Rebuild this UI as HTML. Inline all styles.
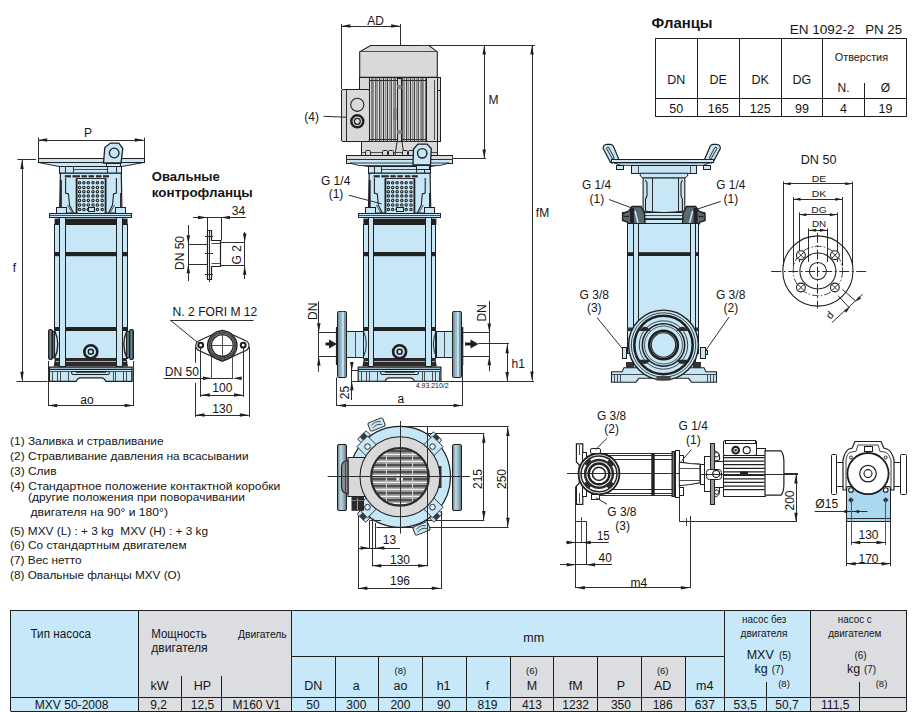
<!DOCTYPE html><html><head><meta charset="utf-8"><style>html,body{margin:0;padding:0;background:#fff;width:920px;height:712px;overflow:hidden}svg{display:block;font-family:"Liberation Sans",sans-serif}</style></head><body>
<svg width="920" height="712" viewBox="0 0 920 712">
<rect x="11" y="610" width="127" height="101" fill="#c6e8f9" stroke="#1f1f1f" stroke-width="0.0"/>
<rect x="138" y="610" width="154" height="101" fill="#dcdde0" stroke="#1f1f1f" stroke-width="0.0"/>
<rect x="292" y="610" width="432" height="46" fill="#c6e8f9" stroke="#1f1f1f" stroke-width="0.0"/>
<rect x="292" y="656" width="218" height="55" fill="#c6e8f9" stroke="#1f1f1f" stroke-width="0.0"/>
<rect x="510" y="656" width="175" height="55" fill="#dcdde0" stroke="#1f1f1f" stroke-width="0.0"/>
<rect x="685" y="656" width="39" height="55" fill="#c6e8f9" stroke="#1f1f1f" stroke-width="0.0"/>
<rect x="724" y="610" width="86" height="101" fill="#c6e8f9" stroke="#1f1f1f" stroke-width="0.0"/>
<rect x="810" y="610" width="96" height="101" fill="#dcdde0" stroke="#1f1f1f" stroke-width="0.0"/>
<line x1="10.5" y1="610.5" x2="906.5" y2="610.5" stroke="#1e1e1e" stroke-width="1.0"/>
<line x1="10.5" y1="711.5" x2="906.5" y2="711.5" stroke="#1e1e1e" stroke-width="1.0"/>
<line x1="10.5" y1="610" x2="10.5" y2="711" stroke="#1e1e1e" stroke-width="1.0"/>
<line x1="906.5" y1="610" x2="906.5" y2="711" stroke="#1e1e1e" stroke-width="1.0"/>
<line x1="10.5" y1="697.5" x2="906.5" y2="697.5" stroke="#1e1e1e" stroke-width="1.0"/>
<line x1="138.5" y1="610" x2="138.5" y2="711" stroke="#1e1e1e" stroke-width="1.0"/>
<line x1="291.5" y1="610" x2="291.5" y2="711" stroke="#1e1e1e" stroke-width="1.0"/>
<line x1="724.5" y1="610" x2="724.5" y2="711" stroke="#1e1e1e" stroke-width="1.0"/>
<line x1="810.5" y1="610" x2="810.5" y2="711" stroke="#1e1e1e" stroke-width="1.0"/>
<line x1="292" y1="656.5" x2="724" y2="656.5" stroke="#1e1e1e" stroke-width="1.0"/>
<line x1="335.5" y1="656" x2="335.5" y2="711" stroke="#1e1e1e" stroke-width="1.0"/>
<line x1="378.5" y1="656" x2="378.5" y2="711" stroke="#1e1e1e" stroke-width="1.0"/>
<line x1="422.5" y1="656" x2="422.5" y2="711" stroke="#1e1e1e" stroke-width="1.0"/>
<line x1="466.5" y1="656" x2="466.5" y2="711" stroke="#1e1e1e" stroke-width="1.0"/>
<line x1="510.5" y1="656" x2="510.5" y2="711" stroke="#1e1e1e" stroke-width="1.0"/>
<line x1="553.5" y1="656" x2="553.5" y2="711" stroke="#1e1e1e" stroke-width="1.0"/>
<line x1="597.5" y1="656" x2="597.5" y2="711" stroke="#1e1e1e" stroke-width="1.0"/>
<line x1="641.5" y1="656" x2="641.5" y2="711" stroke="#1e1e1e" stroke-width="1.0"/>
<line x1="685.5" y1="656" x2="685.5" y2="711" stroke="#1e1e1e" stroke-width="1.0"/>
<line x1="181.5" y1="676" x2="181.5" y2="711" stroke="#1e1e1e" stroke-width="1.0"/>
<line x1="221.5" y1="676" x2="221.5" y2="711" stroke="#1e1e1e" stroke-width="1.0"/>
<line x1="766.5" y1="682" x2="766.5" y2="711" stroke="#1e1e1e" stroke-width="1.0"/>
<line x1="859.5" y1="682" x2="859.5" y2="711" stroke="#1e1e1e" stroke-width="1.0"/>
<text x="30.5" y="638" font-size="12" text-anchor="start" textLength="60.5" lengthAdjust="spacingAndGlyphs" fill="#151515">Тип насоса</text>
<text x="151.2" y="638.3" font-size="12" text-anchor="start" textLength="55.5" lengthAdjust="spacingAndGlyphs" fill="#151515">Мощность</text>
<text x="151.2" y="651.8" font-size="12" text-anchor="start" textLength="56.4" lengthAdjust="spacingAndGlyphs" fill="#151515">двигателя</text>
<text x="238.1" y="638.3" font-size="11" text-anchor="start" textLength="48.6" lengthAdjust="spacingAndGlyphs" fill="#151515">Двигатель</text>
<text x="159.5" y="689.6" font-size="12.5" text-anchor="middle" fill="#151515">kW</text>
<text x="202.5" y="689.6" font-size="12.5" text-anchor="middle" fill="#151515">HP</text>
<text x="533.7" y="641.8" font-size="12.5" text-anchor="middle" fill="#151515">mm</text>
<text x="313.2" y="690" font-size="12.5" text-anchor="middle" fill="#151515">DN</text>
<text x="356.3" y="690" font-size="12.5" text-anchor="middle" fill="#151515">a</text>
<text x="400.4" y="690" font-size="12.5" text-anchor="middle" fill="#151515">ao</text>
<text x="443.6" y="690" font-size="12.5" text-anchor="middle" fill="#151515">h1</text>
<text x="487.5" y="690" font-size="12.5" text-anchor="middle" fill="#151515">f</text>
<text x="531.9" y="690" font-size="12.5" text-anchor="middle" fill="#151515">M</text>
<text x="575.7" y="690" font-size="12.5" text-anchor="middle" fill="#151515">fM</text>
<text x="620.9" y="690" font-size="12.5" text-anchor="middle" fill="#151515">P</text>
<text x="662.7" y="690" font-size="12.5" text-anchor="middle" fill="#151515">AD</text>
<text x="704.8" y="690" font-size="12.5" text-anchor="middle" fill="#151515">m4</text>
<text x="400.4" y="674.4" font-size="9.5" text-anchor="middle" fill="#151515">(8)</text>
<text x="531.9" y="674.4" font-size="9.5" text-anchor="middle" fill="#151515">(6)</text>
<text x="662.7" y="674.4" font-size="9.5" text-anchor="middle" fill="#151515">(6)</text>
<text x="764.2" y="623" font-size="10.5" text-anchor="middle" textLength="44.3" lengthAdjust="spacingAndGlyphs" fill="#151515">насос без</text>
<text x="764.0" y="636.5" font-size="10.5" text-anchor="middle" textLength="47" lengthAdjust="spacingAndGlyphs" fill="#151515">двигателя</text>
<text x="760.2" y="658.7" font-size="12.5" text-anchor="middle" fill="#151515">MXV</text>
<text x="785.1" y="658.7" font-size="10" text-anchor="middle" fill="#151515">(5)</text>
<text x="761.2" y="673" font-size="12.5" text-anchor="middle" fill="#151515">kg</text>
<text x="777.8" y="673" font-size="10" text-anchor="middle" fill="#151515">(7)</text>
<text x="784" y="687.4" font-size="9.5" text-anchor="middle" fill="#151515">(8)</text>
<text x="854.8" y="623" font-size="10.5" text-anchor="middle" textLength="34" lengthAdjust="spacingAndGlyphs" fill="#151515">насос с</text>
<text x="854.8" y="636.5" font-size="10.5" text-anchor="middle" textLength="53.2" lengthAdjust="spacingAndGlyphs" fill="#151515">двигателем</text>
<text x="860.6" y="658.7" font-size="10" text-anchor="middle" fill="#151515">(6)</text>
<text x="853.5" y="673" font-size="12.5" text-anchor="middle" fill="#151515">kg</text>
<text x="870" y="673" font-size="10" text-anchor="middle" fill="#151515">(7)</text>
<text x="881.5" y="687.4" font-size="9.5" text-anchor="middle" fill="#151515">(8)</text>
<text x="71.6" y="709" font-size="12" text-anchor="middle" textLength="73.8" lengthAdjust="spacingAndGlyphs" fill="#151515">MXV 50-2008</text>
<text x="158.6" y="709" font-size="12" text-anchor="middle" fill="#151515">9,2</text>
<text x="202.5" y="709" font-size="12" text-anchor="middle" fill="#151515">12,5</text>
<text x="256.5" y="709" font-size="12" text-anchor="middle" fill="#151515">M160 V1</text>
<text x="313" y="709" font-size="12" text-anchor="middle" fill="#151515">50</text>
<text x="356.3" y="709" font-size="12" text-anchor="middle" fill="#151515">300</text>
<text x="400.4" y="709" font-size="12" text-anchor="middle" fill="#151515">200</text>
<text x="443.8" y="709" font-size="12" text-anchor="middle" fill="#151515">90</text>
<text x="487.5" y="709" font-size="12" text-anchor="middle" fill="#151515">819</text>
<text x="531.9" y="709" font-size="12" text-anchor="middle" fill="#151515">413</text>
<text x="575.7" y="709" font-size="12" text-anchor="middle" fill="#151515">1232</text>
<text x="620.9" y="709" font-size="12" text-anchor="middle" fill="#151515">350</text>
<text x="662.7" y="709" font-size="12" text-anchor="middle" fill="#151515">186</text>
<text x="704.8" y="709" font-size="12" text-anchor="middle" fill="#151515">637</text>
<text x="745.2" y="709" font-size="12" text-anchor="middle" fill="#151515">53,5</text>
<text x="787" y="709" font-size="12" text-anchor="middle" fill="#151515">50,7</text>
<text x="835.2" y="709" font-size="12" text-anchor="middle" fill="#151515">111,5</text>
<text x="651.6" y="28" font-size="15" text-anchor="start" font-weight="bold" textLength="61" lengthAdjust="spacingAndGlyphs" fill="#151515">Фланцы</text>
<text x="789.7" y="33.5" font-size="12.5" text-anchor="start" textLength="64.8" lengthAdjust="spacingAndGlyphs" fill="#151515">EN 1092-2</text>
<text x="865.2" y="33.5" font-size="12.5" text-anchor="start" textLength="37" lengthAdjust="spacingAndGlyphs" fill="#151515">PN 25</text>
<line x1="655.2" y1="38.5" x2="906.6" y2="38.5" stroke="#1e1e1e" stroke-width="1.0"/>
<line x1="655.2" y1="116.5" x2="906.6" y2="116.5" stroke="#1e1e1e" stroke-width="1.0"/>
<line x1="655.5" y1="38.6" x2="655.5" y2="116.6" stroke="#1e1e1e" stroke-width="1.0"/>
<line x1="906.5" y1="38.6" x2="906.5" y2="116.6" stroke="#1e1e1e" stroke-width="1.0"/>
<line x1="655.2" y1="98.5" x2="906.6" y2="98.5" stroke="#1e1e1e" stroke-width="1.0"/>
<line x1="697.5" y1="38.6" x2="697.5" y2="116.6" stroke="#1e1e1e" stroke-width="1.0"/>
<line x1="739.5" y1="38.6" x2="739.5" y2="116.6" stroke="#1e1e1e" stroke-width="1.0"/>
<line x1="781.5" y1="38.6" x2="781.5" y2="116.6" stroke="#1e1e1e" stroke-width="1.0"/>
<line x1="822.5" y1="38.6" x2="822.5" y2="116.6" stroke="#1e1e1e" stroke-width="1.0"/>
<line x1="864.5" y1="83" x2="864.5" y2="116.6" stroke="#1e1e1e" stroke-width="1.0"/>
<text x="676.2" y="83.7" font-size="12.5" text-anchor="middle" fill="#151515">DN</text>
<text x="718.2" y="83.7" font-size="12.5" text-anchor="middle" fill="#151515">DE</text>
<text x="760.2" y="83.7" font-size="12.5" text-anchor="middle" fill="#151515">DK</text>
<text x="801.9" y="83.7" font-size="12.5" text-anchor="middle" fill="#151515">DG</text>
<text x="861.4" y="60.9" font-size="10.5" text-anchor="middle" textLength="53.2" lengthAdjust="spacingAndGlyphs" fill="#151515">Отверстия</text>
<text x="843.5" y="92" font-size="12" text-anchor="middle" fill="#151515">N.</text>
<text x="885.5" y="92" font-size="12" text-anchor="middle" fill="#151515">Ø</text>
<text x="676.2" y="112.6" font-size="12.5" text-anchor="middle" fill="#151515">50</text>
<text x="718.2" y="112.6" font-size="12.5" text-anchor="middle" fill="#151515">165</text>
<text x="760.2" y="112.6" font-size="12.5" text-anchor="middle" fill="#151515">125</text>
<text x="801.9" y="112.6" font-size="12.5" text-anchor="middle" fill="#151515">99</text>
<text x="843.5" y="112.6" font-size="12.5" text-anchor="middle" fill="#151515">4</text>
<text x="885.5" y="112.6" font-size="12.5" text-anchor="middle" fill="#151515">19</text>
<path d="M38.5,162.5 L143.8,162.5 L121.3,166.6 L59.6,166.6Z" fill="#c7e7f7" stroke="#1f1f1f" stroke-width="0.96"/>
<rect x="59.5" y="166.5" width="62.0" height="7.0" fill="#c7e7f7" stroke="#1f1f1f" stroke-width="1.0"/>
<line x1="65.5" y1="166.6" x2="65.5" y2="173.2" stroke="#2e2e2e" stroke-width="1.0"/>
<line x1="73.5" y1="166.6" x2="73.5" y2="173.2" stroke="#2e2e2e" stroke-width="1.0"/>
<line x1="107.5" y1="166.6" x2="107.5" y2="173.2" stroke="#2e2e2e" stroke-width="1.0"/>
<line x1="116.5" y1="166.6" x2="116.5" y2="173.2" stroke="#2e2e2e" stroke-width="1.0"/>
<line x1="73" y1="169.5" x2="107.8" y2="169.5" stroke="#3c3c3c" stroke-width="0.9"/>
<path d="M60.4,173.2 L121.3,173.2 L122,213.2 L59.6,213.2Z" fill="#c7e7f7" stroke="#1f1f1f" stroke-width="1.2"/>
<rect x="64.8" y="175.2" width="6.200000000000003" height="2.2" fill="#2a2a2a" stroke="#1f1f1f" stroke-width="0.0"/>
<rect x="72.5" y="175.2" width="7.5" height="2.2" fill="#2a2a2a" stroke="#1f1f1f" stroke-width="0.0"/>
<rect x="81.5" y="175.2" width="5.5" height="2.2" fill="#2a2a2a" stroke="#1f1f1f" stroke-width="0.0"/>
<rect x="88.5" y="175.2" width="5.5" height="2.2" fill="#2a2a2a" stroke="#1f1f1f" stroke-width="0.0"/>
<rect x="96" y="175.2" width="5.5" height="2.2" fill="#2a2a2a" stroke="#1f1f1f" stroke-width="0.0"/>
<rect x="103" y="175.2" width="6" height="2.2" fill="#2a2a2a" stroke="#1f1f1f" stroke-width="0.0"/>
<path d="M65.6,178 L65.6,193 L68.5,194 L69.5,205 L73.5,213" fill="none" stroke="#1f1f1f" stroke-width="1.08"/>
<path d="M116.4,178 L116.4,193 L113.5,194 L112.5,205 L108.5,213" fill="none" stroke="#1f1f1f" stroke-width="1.08"/>
<line x1="67.5" y1="205" x2="72" y2="213" stroke="#3c3c3c" stroke-width="0.9"/>
<line x1="114.5" y1="205" x2="110" y2="213" stroke="#3c3c3c" stroke-width="0.9"/>
<line x1="61" y1="180" x2="61" y2="208" stroke="#1f1f1f" stroke-width="1.7"/>
<line x1="120.5" y1="193" x2="120.5" y2="208" stroke="#2e2e2e" stroke-width="1.0"/>
<rect x="76.1" y="178.3" width="30" height="34.7" fill="#c7e7f7" stroke="#1f1f1f" stroke-width="0.0"/>
<line x1="76.6" y1="178.3" x2="76.6" y2="213" stroke="#1f1f1f" stroke-width="1.8"/>
<line x1="105.6" y1="178.3" x2="105.6" y2="213" stroke="#1f1f1f" stroke-width="1.8"/>
<line x1="76.1" y1="178.5" x2="106.1" y2="178.5" stroke="#2e2e2e" stroke-width="1.0"/>
<circle cx="79.6" cy="182.8" r="1.2" fill="none" stroke="#1f1f1f" stroke-width="1.08"/>
<circle cx="79.6" cy="187.4" r="1.2" fill="none" stroke="#1f1f1f" stroke-width="1.08"/>
<circle cx="79.6" cy="191.7" r="1.2" fill="none" stroke="#1f1f1f" stroke-width="1.08"/>
<circle cx="79.6" cy="196.1" r="1.2" fill="none" stroke="#1f1f1f" stroke-width="1.08"/>
<circle cx="79.6" cy="200.4" r="1.2" fill="none" stroke="#1f1f1f" stroke-width="1.08"/>
<circle cx="79.6" cy="205" r="1.2" fill="none" stroke="#1f1f1f" stroke-width="1.08"/>
<circle cx="79.6" cy="209.6" r="1.2" fill="none" stroke="#1f1f1f" stroke-width="1.08"/>
<circle cx="83.9" cy="182.8" r="1.2" fill="none" stroke="#1f1f1f" stroke-width="1.08"/>
<circle cx="83.9" cy="187.4" r="1.2" fill="none" stroke="#1f1f1f" stroke-width="1.08"/>
<circle cx="83.9" cy="191.7" r="1.2" fill="none" stroke="#1f1f1f" stroke-width="1.08"/>
<circle cx="83.9" cy="196.1" r="1.2" fill="none" stroke="#1f1f1f" stroke-width="1.08"/>
<circle cx="83.9" cy="200.4" r="1.2" fill="none" stroke="#1f1f1f" stroke-width="1.08"/>
<circle cx="83.9" cy="205" r="1.2" fill="none" stroke="#1f1f1f" stroke-width="1.08"/>
<circle cx="83.9" cy="209.6" r="1.2" fill="none" stroke="#1f1f1f" stroke-width="1.08"/>
<circle cx="88.3" cy="182.8" r="1.2" fill="none" stroke="#1f1f1f" stroke-width="1.08"/>
<circle cx="88.3" cy="187.4" r="1.2" fill="none" stroke="#1f1f1f" stroke-width="1.08"/>
<circle cx="88.3" cy="191.7" r="1.2" fill="none" stroke="#1f1f1f" stroke-width="1.08"/>
<circle cx="88.3" cy="196.1" r="1.2" fill="none" stroke="#1f1f1f" stroke-width="1.08"/>
<circle cx="88.3" cy="200.4" r="1.2" fill="none" stroke="#1f1f1f" stroke-width="1.08"/>
<circle cx="88.3" cy="205" r="1.2" fill="none" stroke="#1f1f1f" stroke-width="1.08"/>
<circle cx="88.3" cy="209.6" r="1.2" fill="none" stroke="#1f1f1f" stroke-width="1.08"/>
<circle cx="93" cy="182.8" r="1.2" fill="none" stroke="#1f1f1f" stroke-width="1.08"/>
<circle cx="93" cy="187.4" r="1.2" fill="none" stroke="#1f1f1f" stroke-width="1.08"/>
<circle cx="93" cy="191.7" r="1.2" fill="none" stroke="#1f1f1f" stroke-width="1.08"/>
<circle cx="93" cy="196.1" r="1.2" fill="none" stroke="#1f1f1f" stroke-width="1.08"/>
<circle cx="93" cy="200.4" r="1.2" fill="none" stroke="#1f1f1f" stroke-width="1.08"/>
<circle cx="93" cy="205" r="1.2" fill="none" stroke="#1f1f1f" stroke-width="1.08"/>
<circle cx="93" cy="209.6" r="1.2" fill="none" stroke="#1f1f1f" stroke-width="1.08"/>
<circle cx="97.4" cy="182.8" r="1.2" fill="none" stroke="#1f1f1f" stroke-width="1.08"/>
<circle cx="97.4" cy="187.4" r="1.2" fill="none" stroke="#1f1f1f" stroke-width="1.08"/>
<circle cx="97.4" cy="191.7" r="1.2" fill="none" stroke="#1f1f1f" stroke-width="1.08"/>
<circle cx="97.4" cy="196.1" r="1.2" fill="none" stroke="#1f1f1f" stroke-width="1.08"/>
<circle cx="97.4" cy="200.4" r="1.2" fill="none" stroke="#1f1f1f" stroke-width="1.08"/>
<circle cx="97.4" cy="205" r="1.2" fill="none" stroke="#1f1f1f" stroke-width="1.08"/>
<circle cx="97.4" cy="209.6" r="1.2" fill="none" stroke="#1f1f1f" stroke-width="1.08"/>
<circle cx="102.2" cy="182.8" r="1.2" fill="none" stroke="#1f1f1f" stroke-width="1.08"/>
<circle cx="102.2" cy="187.4" r="1.2" fill="none" stroke="#1f1f1f" stroke-width="1.08"/>
<circle cx="102.2" cy="191.7" r="1.2" fill="none" stroke="#1f1f1f" stroke-width="1.08"/>
<circle cx="102.2" cy="196.1" r="1.2" fill="none" stroke="#1f1f1f" stroke-width="1.08"/>
<circle cx="102.2" cy="200.4" r="1.2" fill="none" stroke="#1f1f1f" stroke-width="1.08"/>
<circle cx="102.2" cy="205" r="1.2" fill="none" stroke="#1f1f1f" stroke-width="1.08"/>
<circle cx="102.2" cy="209.6" r="1.2" fill="none" stroke="#1f1f1f" stroke-width="1.08"/>
<rect x="88.5" y="207.5" width="6.0" height="4.0" fill="#c7e7f7" stroke="#1f1f1f" stroke-width="1.0"/>
<rect x="56.5" y="207.5" width="10.0" height="6.0" fill="#c7e7f7" stroke="#1f1f1f" stroke-width="1.0"/>
<rect x="115.5" y="207.5" width="10.0" height="6.0" fill="#c7e7f7" stroke="#1f1f1f" stroke-width="1.0"/>
<rect x="49.5" y="213.5" width="82.0" height="4.0" fill="#c7e7f7" stroke="#1f1f1f" stroke-width="1.0"/>
<line x1="49.6" y1="215.5" x2="131.6" y2="215.5" stroke="#3c3c3c" stroke-width="0.9"/>
<rect x="54.6" y="218.6" width="73" height="6.1" fill="#222" stroke="#1f1f1f" stroke-width="0.0"/>
<rect x="54.5" y="224.5" width="73.0" height="134.0" fill="#c7e7f7" stroke="#1f1f1f" stroke-width="1.0"/>
<rect x="54.6" y="252" width="72.4" height="4.2" fill="#222" stroke="#1f1f1f" stroke-width="0.0"/>
<rect x="54.6" y="327" width="72.4" height="4.0" fill="#222" stroke="#1f1f1f" stroke-width="0.0"/>
<path d="M55,358.2 L126.6,358.2 L128,366.6 L53.6,366.6Z" fill="#2a2a2a" stroke="#1f1f1f" stroke-width="0.0"/>
<line x1="56" y1="361.5" x2="126" y2="361.5" stroke="#8fb4c6" stroke-width="1.0"/>
<rect x="59.5" y="217.5" width="6.0" height="149.0" fill="#c7e7f7" stroke="#1f1f1f" stroke-width="1.0"/>
<rect x="116.5" y="217.5" width="6.0" height="149.0" fill="#c7e7f7" stroke="#1f1f1f" stroke-width="1.0"/>
<circle cx="90.8" cy="351.7" r="6.5" fill="#c7e7f7" stroke="#1f1f1f" stroke-width="2.64"/>
<circle cx="90.8" cy="351.7" r="2.5" fill="#c7e7f7" stroke="#1f1f1f" stroke-width="1.56"/>
<path d="M49.4,367.1 L132.1,367.1 L132.1,381.3 L105.7,381.3 Q104.5,377.9 101.5,377.9 L80.5,377.9 Q77.5,377.9 76.3,381.3 L49.4,381.3Z" fill="#c7e7f7" stroke="#1f1f1f" stroke-width="1.2"/>
<line x1="49.4" y1="369.3" x2="132.1" y2="369.3" stroke="#1f1f1f" stroke-width="1.3"/>
<line x1="49.4" y1="371.5" x2="132.1" y2="371.5" stroke="#3c3c3c" stroke-width="0.9"/>
<line x1="52.5" y1="371" x2="52.5" y2="381.3" stroke="#3c3c3c" stroke-width="0.9"/>
<line x1="57.5" y1="371" x2="57.5" y2="381.3" stroke="#3c3c3c" stroke-width="0.9"/>
<line x1="60.5" y1="371" x2="60.5" y2="381.3" stroke="#3c3c3c" stroke-width="0.9"/>
<line x1="68.5" y1="371" x2="68.5" y2="381.3" stroke="#3c3c3c" stroke-width="0.9"/>
<line x1="113.5" y1="371" x2="113.5" y2="381.3" stroke="#3c3c3c" stroke-width="0.9"/>
<line x1="115.5" y1="371" x2="115.5" y2="381.3" stroke="#3c3c3c" stroke-width="0.9"/>
<line x1="123.5" y1="371" x2="123.5" y2="381.3" stroke="#3c3c3c" stroke-width="0.9"/>
<line x1="126.5" y1="371" x2="126.5" y2="381.3" stroke="#3c3c3c" stroke-width="0.9"/>
<line x1="131.5" y1="371" x2="131.5" y2="381.3" stroke="#3c3c3c" stroke-width="0.9"/>
<rect x="71.5" y="371.5" width="38.0" height="3.0" fill="#c7e7f7" stroke="#1f1f1f" stroke-width="1.0" rx="1.6"/>
<line x1="76" y1="372.5" x2="106" y2="372.5" stroke="#3c3c3c" stroke-width="0.9"/>
<rect x="38.5" y="158.5" width="106.0" height="4.0" fill="#c7e7f7" stroke="#1f1f1f" stroke-width="1.0"/>
<path d="M103.5,163 L104.8,147.5 L110.5,143.1 L118.8,143.1 L122.8,148.5 L121,163Z" fill="#c7e7f7" stroke="#1f1f1f" stroke-width="1.32"/>
<circle cx="114.2" cy="153" r="4.8" fill="#c7e7f7" stroke="#1f1f1f" stroke-width="1.32"/>
<rect x="106.5" y="163.5" width="14.0" height="3.0" fill="#c7e7f7" stroke="#1f1f1f" stroke-width="1.0"/>
<path d="M54.6,330.5 Q61,344.4 54.6,358.3" fill="#c7e7f7" stroke="#1f1f1f" stroke-width="1.32"/>
<path d="M127,330.5 Q120.6,344.4 127,358.3" fill="#c7e7f7" stroke="#1f1f1f" stroke-width="1.32"/>
<rect x="48.5" y="329.5" width="4.0" height="30.0" fill="#3c4a51" stroke="#1f1f1f" stroke-width="1.0" rx="1.2"/>
<rect x="52.5" y="331.5" width="2.0" height="26.0" fill="#5d717b" stroke="#1f1f1f" stroke-width="1.0"/>
<rect x="49.6" y="330.5" width="1.3" height="28" fill="#6f8794" stroke="#1f1f1f" stroke-width="0.0"/>
<rect x="129.5" y="329.5" width="4.0" height="30.0" fill="#3c4a51" stroke="#1f1f1f" stroke-width="1.0" rx="1.2"/>
<rect x="126.5" y="331.5" width="3.0" height="26.0" fill="#5d717b" stroke="#1f1f1f" stroke-width="1.0"/>
<rect x="130.7" y="330.5" width="1.3" height="28" fill="#6f8794" stroke="#1f1f1f" stroke-width="0.0"/>
<line x1="38.5" y1="137.5" x2="38.5" y2="158" stroke="#2e2e2e" stroke-width="1.0"/>
<line x1="144.5" y1="137.5" x2="144.5" y2="158" stroke="#2e2e2e" stroke-width="1.0"/>
<line x1="38.2" y1="140.5" x2="143.8" y2="140.5" stroke="#2e2e2e" stroke-width="1.0"/>
<path d="M38.20,140.10 L47.20,138.35 L47.20,141.85Z" fill="#1f1f1f"/>
<path d="M143.80,140.10 L134.80,141.85 L134.80,138.35Z" fill="#1f1f1f"/>
<text x="88" y="137.3" font-size="12" text-anchor="middle" fill="#151515">P</text>
<line x1="17.4" y1="159.5" x2="36" y2="159.5" stroke="#2e2e2e" stroke-width="1.0"/>
<line x1="16.7" y1="381.5" x2="47.5" y2="381.5" stroke="#2e2e2e" stroke-width="1.0"/>
<line x1="22.5" y1="159.9" x2="22.5" y2="380.8" stroke="#2e2e2e" stroke-width="1.0"/>
<path d="M22.00,159.90 L23.75,168.90 L20.25,168.90Z" fill="#1f1f1f"/>
<path d="M22.00,380.80 L20.25,371.80 L23.75,371.80Z" fill="#1f1f1f"/>
<text x="14.5" y="272" font-size="12" text-anchor="middle" fill="#151515">f</text>
<line x1="48.5" y1="361" x2="48.5" y2="406" stroke="#2e2e2e" stroke-width="1.0"/>
<line x1="133.5" y1="361" x2="133.5" y2="406" stroke="#2e2e2e" stroke-width="1.0"/>
<line x1="48.2" y1="405.5" x2="133.6" y2="405.5" stroke="#2e2e2e" stroke-width="1.0"/>
<path d="M48.20,405.40 L57.20,403.65 L57.20,407.15Z" fill="#1f1f1f"/>
<path d="M133.60,405.40 L124.60,407.15 L124.60,403.65Z" fill="#1f1f1f"/>
<text x="87" y="403.5" font-size="12" text-anchor="middle" fill="#151515">ao</text>
<path d="M347.3,162.5 L452.6,162.5 L430.1,166.6 L368.4,166.6Z" fill="#c7e7f7" stroke="#1f1f1f" stroke-width="0.96"/>
<rect x="368.5" y="166.5" width="62.0" height="7.0" fill="#c7e7f7" stroke="#1f1f1f" stroke-width="1.0"/>
<line x1="374.5" y1="166.6" x2="374.5" y2="173.2" stroke="#2e2e2e" stroke-width="1.0"/>
<line x1="381.5" y1="166.6" x2="381.5" y2="173.2" stroke="#2e2e2e" stroke-width="1.0"/>
<line x1="416.5" y1="166.6" x2="416.5" y2="173.2" stroke="#2e2e2e" stroke-width="1.0"/>
<line x1="424.5" y1="166.6" x2="424.5" y2="173.2" stroke="#2e2e2e" stroke-width="1.0"/>
<line x1="381.8" y1="169.5" x2="416.6" y2="169.5" stroke="#3c3c3c" stroke-width="0.9"/>
<path d="M369.2,173.2 L430.1,173.2 L430.8,213.2 L368.4,213.2Z" fill="#c7e7f7" stroke="#1f1f1f" stroke-width="1.2"/>
<rect x="373.6" y="175.2" width="6.200000000000003" height="2.2" fill="#2a2a2a" stroke="#1f1f1f" stroke-width="0.0"/>
<rect x="381.3" y="175.2" width="7.5" height="2.2" fill="#2a2a2a" stroke="#1f1f1f" stroke-width="0.0"/>
<rect x="390.3" y="175.2" width="5.5" height="2.2" fill="#2a2a2a" stroke="#1f1f1f" stroke-width="0.0"/>
<rect x="397.3" y="175.2" width="5.5" height="2.2" fill="#2a2a2a" stroke="#1f1f1f" stroke-width="0.0"/>
<rect x="404.8" y="175.2" width="5.5" height="2.2" fill="#2a2a2a" stroke="#1f1f1f" stroke-width="0.0"/>
<rect x="411.8" y="175.2" width="6" height="2.2" fill="#2a2a2a" stroke="#1f1f1f" stroke-width="0.0"/>
<path d="M374.4,178 L374.4,193 L377.3,194 L378.3,205 L382.3,213" fill="none" stroke="#1f1f1f" stroke-width="1.08"/>
<path d="M425.2,178 L425.2,193 L422.3,194 L421.3,205 L417.3,213" fill="none" stroke="#1f1f1f" stroke-width="1.08"/>
<line x1="376.3" y1="205" x2="380.8" y2="213" stroke="#3c3c3c" stroke-width="0.9"/>
<line x1="423.3" y1="205" x2="418.8" y2="213" stroke="#3c3c3c" stroke-width="0.9"/>
<line x1="369.8" y1="180" x2="369.8" y2="208" stroke="#1f1f1f" stroke-width="1.7"/>
<line x1="429.5" y1="193" x2="429.5" y2="208" stroke="#2e2e2e" stroke-width="1.0"/>
<rect x="384.9" y="178.3" width="30" height="34.7" fill="#c7e7f7" stroke="#1f1f1f" stroke-width="0.0"/>
<line x1="385.4" y1="178.3" x2="385.4" y2="213" stroke="#1f1f1f" stroke-width="1.8"/>
<line x1="414.4" y1="178.3" x2="414.4" y2="213" stroke="#1f1f1f" stroke-width="1.8"/>
<line x1="384.9" y1="178.5" x2="414.9" y2="178.5" stroke="#2e2e2e" stroke-width="1.0"/>
<circle cx="388.4" cy="182.8" r="1.2" fill="none" stroke="#1f1f1f" stroke-width="1.08"/>
<circle cx="388.4" cy="187.4" r="1.2" fill="none" stroke="#1f1f1f" stroke-width="1.08"/>
<circle cx="388.4" cy="191.7" r="1.2" fill="none" stroke="#1f1f1f" stroke-width="1.08"/>
<circle cx="388.4" cy="196.1" r="1.2" fill="none" stroke="#1f1f1f" stroke-width="1.08"/>
<circle cx="388.4" cy="200.4" r="1.2" fill="none" stroke="#1f1f1f" stroke-width="1.08"/>
<circle cx="388.4" cy="205" r="1.2" fill="none" stroke="#1f1f1f" stroke-width="1.08"/>
<circle cx="388.4" cy="209.6" r="1.2" fill="none" stroke="#1f1f1f" stroke-width="1.08"/>
<circle cx="392.7" cy="182.8" r="1.2" fill="none" stroke="#1f1f1f" stroke-width="1.08"/>
<circle cx="392.7" cy="187.4" r="1.2" fill="none" stroke="#1f1f1f" stroke-width="1.08"/>
<circle cx="392.7" cy="191.7" r="1.2" fill="none" stroke="#1f1f1f" stroke-width="1.08"/>
<circle cx="392.7" cy="196.1" r="1.2" fill="none" stroke="#1f1f1f" stroke-width="1.08"/>
<circle cx="392.7" cy="200.4" r="1.2" fill="none" stroke="#1f1f1f" stroke-width="1.08"/>
<circle cx="392.7" cy="205" r="1.2" fill="none" stroke="#1f1f1f" stroke-width="1.08"/>
<circle cx="392.7" cy="209.6" r="1.2" fill="none" stroke="#1f1f1f" stroke-width="1.08"/>
<circle cx="397.1" cy="182.8" r="1.2" fill="none" stroke="#1f1f1f" stroke-width="1.08"/>
<circle cx="397.1" cy="187.4" r="1.2" fill="none" stroke="#1f1f1f" stroke-width="1.08"/>
<circle cx="397.1" cy="191.7" r="1.2" fill="none" stroke="#1f1f1f" stroke-width="1.08"/>
<circle cx="397.1" cy="196.1" r="1.2" fill="none" stroke="#1f1f1f" stroke-width="1.08"/>
<circle cx="397.1" cy="200.4" r="1.2" fill="none" stroke="#1f1f1f" stroke-width="1.08"/>
<circle cx="397.1" cy="205" r="1.2" fill="none" stroke="#1f1f1f" stroke-width="1.08"/>
<circle cx="397.1" cy="209.6" r="1.2" fill="none" stroke="#1f1f1f" stroke-width="1.08"/>
<circle cx="401.8" cy="182.8" r="1.2" fill="none" stroke="#1f1f1f" stroke-width="1.08"/>
<circle cx="401.8" cy="187.4" r="1.2" fill="none" stroke="#1f1f1f" stroke-width="1.08"/>
<circle cx="401.8" cy="191.7" r="1.2" fill="none" stroke="#1f1f1f" stroke-width="1.08"/>
<circle cx="401.8" cy="196.1" r="1.2" fill="none" stroke="#1f1f1f" stroke-width="1.08"/>
<circle cx="401.8" cy="200.4" r="1.2" fill="none" stroke="#1f1f1f" stroke-width="1.08"/>
<circle cx="401.8" cy="205" r="1.2" fill="none" stroke="#1f1f1f" stroke-width="1.08"/>
<circle cx="401.8" cy="209.6" r="1.2" fill="none" stroke="#1f1f1f" stroke-width="1.08"/>
<circle cx="406.2" cy="182.8" r="1.2" fill="none" stroke="#1f1f1f" stroke-width="1.08"/>
<circle cx="406.2" cy="187.4" r="1.2" fill="none" stroke="#1f1f1f" stroke-width="1.08"/>
<circle cx="406.2" cy="191.7" r="1.2" fill="none" stroke="#1f1f1f" stroke-width="1.08"/>
<circle cx="406.2" cy="196.1" r="1.2" fill="none" stroke="#1f1f1f" stroke-width="1.08"/>
<circle cx="406.2" cy="200.4" r="1.2" fill="none" stroke="#1f1f1f" stroke-width="1.08"/>
<circle cx="406.2" cy="205" r="1.2" fill="none" stroke="#1f1f1f" stroke-width="1.08"/>
<circle cx="406.2" cy="209.6" r="1.2" fill="none" stroke="#1f1f1f" stroke-width="1.08"/>
<circle cx="411.0" cy="182.8" r="1.2" fill="none" stroke="#1f1f1f" stroke-width="1.08"/>
<circle cx="411.0" cy="187.4" r="1.2" fill="none" stroke="#1f1f1f" stroke-width="1.08"/>
<circle cx="411.0" cy="191.7" r="1.2" fill="none" stroke="#1f1f1f" stroke-width="1.08"/>
<circle cx="411.0" cy="196.1" r="1.2" fill="none" stroke="#1f1f1f" stroke-width="1.08"/>
<circle cx="411.0" cy="200.4" r="1.2" fill="none" stroke="#1f1f1f" stroke-width="1.08"/>
<circle cx="411.0" cy="205" r="1.2" fill="none" stroke="#1f1f1f" stroke-width="1.08"/>
<circle cx="411.0" cy="209.6" r="1.2" fill="none" stroke="#1f1f1f" stroke-width="1.08"/>
<rect x="396.5" y="207.5" width="7.0" height="4.0" fill="#c7e7f7" stroke="#1f1f1f" stroke-width="1.0"/>
<rect x="365.5" y="207.5" width="10.0" height="6.0" fill="#c7e7f7" stroke="#1f1f1f" stroke-width="1.0"/>
<rect x="424.5" y="207.5" width="10.0" height="6.0" fill="#c7e7f7" stroke="#1f1f1f" stroke-width="1.0"/>
<rect x="358.5" y="213.5" width="82.0" height="4.0" fill="#c7e7f7" stroke="#1f1f1f" stroke-width="1.0"/>
<line x1="358.4" y1="215.5" x2="440.4" y2="215.5" stroke="#3c3c3c" stroke-width="0.9"/>
<rect x="363.4" y="218.6" width="73" height="6.1" fill="#222" stroke="#1f1f1f" stroke-width="0.0"/>
<rect x="363.5" y="224.5" width="72.0" height="134.0" fill="#c7e7f7" stroke="#1f1f1f" stroke-width="1.0"/>
<rect x="363.4" y="252" width="72.4" height="4.2" fill="#222" stroke="#1f1f1f" stroke-width="0.0"/>
<rect x="363.4" y="327" width="72.4" height="4.0" fill="#222" stroke="#1f1f1f" stroke-width="0.0"/>
<path d="M363.8,358.2 L435.4,358.2 L436.8,366.6 L362.4,366.6Z" fill="#2a2a2a" stroke="#1f1f1f" stroke-width="0.0"/>
<line x1="364.8" y1="361.5" x2="434.8" y2="361.5" stroke="#8fb4c6" stroke-width="1.0"/>
<rect x="368.5" y="217.5" width="5.0" height="149.0" fill="#c7e7f7" stroke="#1f1f1f" stroke-width="1.0"/>
<rect x="425.5" y="217.5" width="6.0" height="149.0" fill="#c7e7f7" stroke="#1f1f1f" stroke-width="1.0"/>
<circle cx="399.6" cy="351.7" r="6.5" fill="#c7e7f7" stroke="#1f1f1f" stroke-width="2.64"/>
<circle cx="399.6" cy="351.7" r="2.5" fill="#c7e7f7" stroke="#1f1f1f" stroke-width="1.56"/>
<path d="M358.2,367.1 L440.9,367.1 L440.9,381.3 L414.5,381.3 Q413.3,377.9 410.3,377.9 L389.3,377.9 Q386.3,377.9 385.1,381.3 L358.2,381.3Z" fill="#c7e7f7" stroke="#1f1f1f" stroke-width="1.2"/>
<line x1="358.2" y1="369.3" x2="440.9" y2="369.3" stroke="#1f1f1f" stroke-width="1.3"/>
<line x1="358.2" y1="371.5" x2="440.9" y2="371.5" stroke="#3c3c3c" stroke-width="0.9"/>
<line x1="361.5" y1="371" x2="361.5" y2="381.3" stroke="#3c3c3c" stroke-width="0.9"/>
<line x1="366.5" y1="371" x2="366.5" y2="381.3" stroke="#3c3c3c" stroke-width="0.9"/>
<line x1="369.5" y1="371" x2="369.5" y2="381.3" stroke="#3c3c3c" stroke-width="0.9"/>
<line x1="377.5" y1="371" x2="377.5" y2="381.3" stroke="#3c3c3c" stroke-width="0.9"/>
<line x1="422.5" y1="371" x2="422.5" y2="381.3" stroke="#3c3c3c" stroke-width="0.9"/>
<line x1="424.5" y1="371" x2="424.5" y2="381.3" stroke="#3c3c3c" stroke-width="0.9"/>
<line x1="432.5" y1="371" x2="432.5" y2="381.3" stroke="#3c3c3c" stroke-width="0.9"/>
<line x1="435.5" y1="371" x2="435.5" y2="381.3" stroke="#3c3c3c" stroke-width="0.9"/>
<line x1="439.5" y1="371" x2="439.5" y2="381.3" stroke="#3c3c3c" stroke-width="0.9"/>
<rect x="380.5" y="371.5" width="38.0" height="3.0" fill="#c7e7f7" stroke="#1f1f1f" stroke-width="1.0" rx="1.6"/>
<line x1="384.8" y1="372.5" x2="414.8" y2="372.5" stroke="#3c3c3c" stroke-width="0.9"/>
<rect x="361.5" y="141.5" width="76.0" height="15.0" fill="#d9d9d9" stroke="#1f1f1f" stroke-width="1.0"/>
<path d="M397,141.6 L395,155.9 M402,141.6 L404,155.9" fill="none" stroke="#1f1f1f" stroke-width="0.96"/>
<line x1="361.5" y1="152.5" x2="437.2" y2="152.5" stroke="#3c3c3c" stroke-width="0.9"/>
<rect x="365.5" y="150.5" width="5.0" height="5.0" fill="#d9d9d9" stroke="#1f1f1f" stroke-width="1.0" rx="1"/>
<rect x="382.5" y="150.5" width="5.0" height="5.0" fill="#d9d9d9" stroke="#1f1f1f" stroke-width="1.0" rx="1"/>
<rect x="388.5" y="150.5" width="5.0" height="5.0" fill="#d9d9d9" stroke="#1f1f1f" stroke-width="1.0" rx="1"/>
<rect x="402.5" y="150.5" width="5.0" height="5.0" fill="#d9d9d9" stroke="#1f1f1f" stroke-width="1.0" rx="1"/>
<rect x="408.5" y="150.5" width="5.0" height="5.0" fill="#d9d9d9" stroke="#1f1f1f" stroke-width="1.0" rx="1"/>
<rect x="346.5" y="155.5" width="106.0" height="8.0" fill="#c7e7f7" stroke="#1f1f1f" stroke-width="1.0"/>
<rect x="347" y="156.4" width="105.3" height="3.1" fill="#d9d9d9" stroke="#1f1f1f" stroke-width="0.0"/>
<line x1="346.5" y1="159.5" x2="452.8" y2="159.5" stroke="#2e2e2e" stroke-width="1.0"/>
<path d="M350,163 L449,163 L440,165.6 L359,165.6Z" fill="#c7e7f7" stroke="#1f1f1f" stroke-width="0.84"/>
<rect x="359.5" y="77.5" width="81.0" height="64.0" fill="#d9d9d9" stroke="#1f1f1f" stroke-width="1.0"/>
<rect x="359.5" y="77.5" width="10.0" height="13.0" fill="#d9d9d9" stroke="#1f1f1f" stroke-width="1.0"/>
<line x1="372.0" y1="77.8" x2="372.0" y2="141.6" stroke="#333" stroke-width="1.1"/>
<line x1="373.5" y1="77.8" x2="373.5" y2="141.6" stroke="#8a8a8a" stroke-width="0.9"/>
<line x1="375.85" y1="77.8" x2="375.85" y2="141.6" stroke="#333" stroke-width="1.1"/>
<line x1="377.5" y1="77.8" x2="377.5" y2="141.6" stroke="#8a8a8a" stroke-width="0.9"/>
<line x1="379.7" y1="77.8" x2="379.7" y2="141.6" stroke="#333" stroke-width="1.1"/>
<line x1="381.5" y1="77.8" x2="381.5" y2="141.6" stroke="#8a8a8a" stroke-width="0.9"/>
<line x1="383.55" y1="77.8" x2="383.55" y2="141.6" stroke="#333" stroke-width="1.1"/>
<line x1="385.5" y1="77.8" x2="385.5" y2="141.6" stroke="#8a8a8a" stroke-width="0.9"/>
<line x1="387.4" y1="77.8" x2="387.4" y2="141.6" stroke="#333" stroke-width="1.1"/>
<line x1="389.5" y1="77.8" x2="389.5" y2="141.6" stroke="#8a8a8a" stroke-width="0.9"/>
<line x1="391.25" y1="77.8" x2="391.25" y2="141.6" stroke="#333" stroke-width="1.1"/>
<line x1="393.5" y1="77.8" x2="393.5" y2="141.6" stroke="#8a8a8a" stroke-width="0.9"/>
<line x1="395.1" y1="77.8" x2="395.1" y2="141.6" stroke="#333" stroke-width="1.1"/>
<line x1="397.5" y1="77.8" x2="397.5" y2="141.6" stroke="#8a8a8a" stroke-width="0.9"/>
<line x1="398.95" y1="77.8" x2="398.95" y2="141.6" stroke="#333" stroke-width="1.1"/>
<line x1="400.5" y1="77.8" x2="400.5" y2="141.6" stroke="#8a8a8a" stroke-width="0.9"/>
<line x1="402.8" y1="77.8" x2="402.8" y2="141.6" stroke="#333" stroke-width="1.1"/>
<line x1="404.5" y1="77.8" x2="404.5" y2="141.6" stroke="#8a8a8a" stroke-width="0.9"/>
<line x1="406.65" y1="77.8" x2="406.65" y2="141.6" stroke="#333" stroke-width="1.1"/>
<line x1="408.5" y1="77.8" x2="408.5" y2="141.6" stroke="#8a8a8a" stroke-width="0.9"/>
<line x1="410.5" y1="77.8" x2="410.5" y2="141.6" stroke="#333" stroke-width="1.1"/>
<line x1="412.5" y1="77.8" x2="412.5" y2="141.6" stroke="#8a8a8a" stroke-width="0.9"/>
<line x1="414.35" y1="77.8" x2="414.35" y2="141.6" stroke="#333" stroke-width="1.1"/>
<line x1="416.5" y1="77.8" x2="416.5" y2="141.6" stroke="#8a8a8a" stroke-width="0.9"/>
<line x1="418.2" y1="77.8" x2="418.2" y2="141.6" stroke="#333" stroke-width="1.1"/>
<line x1="420.5" y1="77.8" x2="420.5" y2="141.6" stroke="#8a8a8a" stroke-width="0.9"/>
<line x1="422.05" y1="77.8" x2="422.05" y2="141.6" stroke="#333" stroke-width="1.1"/>
<line x1="423.5" y1="77.8" x2="423.5" y2="141.6" stroke="#8a8a8a" stroke-width="0.9"/>
<line x1="425.9" y1="77.8" x2="425.9" y2="141.6" stroke="#333" stroke-width="1.1"/>
<line x1="427.5" y1="77.8" x2="427.5" y2="141.6" stroke="#8a8a8a" stroke-width="0.9"/>
<line x1="370" y1="80.5" x2="426.4" y2="80.5" stroke="#2e2e2e" stroke-width="1.0"/>
<line x1="370" y1="139.5" x2="426.4" y2="139.5" stroke="#2e2e2e" stroke-width="1.0"/>
<rect x="397.5" y="78.5" width="4.0" height="63.0" fill="#cfcfcf" stroke="#1f1f1f" stroke-width="1.0"/>
<rect x="397.3" y="85" width="4.4" height="4" fill="#888" stroke="#1f1f1f" stroke-width="0.0"/>
<rect x="397.3" y="130" width="4.4" height="4" fill="#888" stroke="#1f1f1f" stroke-width="0.0"/>
<rect x="393.5" y="108" width="3" height="12" fill="#777" stroke="#1f1f1f" stroke-width="0.0"/>
<rect x="426.5" y="77.5" width="11.0" height="64.0" fill="#d9d9d9" stroke="#1f1f1f" stroke-width="1.0"/>
<rect x="437.5" y="77.5" width="3.0" height="13.0" fill="#d9d9d9" stroke="#1f1f1f" stroke-width="1.0"/>
<line x1="434.5" y1="80" x2="434.5" y2="140" stroke="#3c3c3c" stroke-width="0.9"/>
<path d="M370.6,45.5 L429,45.5 L437.3,51.9 L437.3,77.4 L359.7,77.4 L359.7,51.9Z" fill="#d9d9d9" stroke="#1f1f1f" stroke-width="1.08"/>
<line x1="359.7" y1="51.5" x2="437.3" y2="51.5" stroke="#3c3c3c" stroke-width="0.9"/>
<rect x="341.5" y="89.5" width="28.0" height="52.0" fill="#d9d9d9" stroke="#1f1f1f" stroke-width="1.0" rx="1.5"/>
<line x1="346.5" y1="89.3" x2="346.5" y2="141.4" stroke="#2e2e2e" stroke-width="1.0"/>
<circle cx="357.3" cy="104.8" r="6.6" fill="#d9d9d9" stroke="#1f1f1f" stroke-width="1.08"/>
<circle cx="357.3" cy="121.3" r="6.0" fill="#d9d9d9" stroke="#1f1f1f" stroke-width="2.4"/>
<circle cx="357.3" cy="121.3" r="3.0" fill="#d9d9d9" stroke="#1f1f1f" stroke-width="1.2"/>
<path d="M413,165 L413.5,149 L418,144.1 L427,144.1 L431.3,148.5 L430.5,165Z" fill="#c7e7f7" stroke="#1f1f1f" stroke-width="1.32"/>
<circle cx="422.2" cy="153.3" r="4.7" fill="#c7e7f7" stroke="#1f1f1f" stroke-width="1.44"/>
<rect x="416.5" y="165.5" width="13.0" height="4.0" fill="#c7e7f7" stroke="#1f1f1f" stroke-width="1.0"/>
<rect x="337.5" y="311.5" width="9.0" height="66.0" fill="#7896a6" stroke="#1f1f1f" stroke-width="1.0" rx="1"/>
<rect x="339.7" y="311.8" width="2.2" height="65.2" fill="#9ab9c9" stroke="#1f1f1f" stroke-width="0.0"/>
<rect x="341.9" y="311.8" width="2.0" height="65.2" fill="#c5e3f1" stroke="#1f1f1f" stroke-width="0.0"/>
<rect x="452.5" y="311.5" width="9.0" height="66.0" fill="#7896a6" stroke="#1f1f1f" stroke-width="1.0" rx="1"/>
<rect x="454.7" y="311.8" width="2.2" height="65.2" fill="#9ab9c9" stroke="#1f1f1f" stroke-width="0.0"/>
<rect x="456.9" y="311.8" width="2.0" height="65.2" fill="#c5e3f1" stroke="#1f1f1f" stroke-width="0.0"/>
<line x1="336.6" y1="327" x2="336.6" y2="365" stroke="#1f1f1f" stroke-width="1.4"/>
<line x1="462.6" y1="327" x2="462.6" y2="365" stroke="#1f1f1f" stroke-width="1.4"/>
<rect x="346.5" y="331.5" width="17.0" height="26.0" fill="#c7e7f7" stroke="#1f1f1f" stroke-width="1.0"/>
<line x1="355.5" y1="331.7" x2="355.5" y2="357" stroke="#3c3c3c" stroke-width="0.9"/>
<rect x="436.5" y="331.5" width="16.0" height="26.0" fill="#c7e7f7" stroke="#1f1f1f" stroke-width="1.0"/>
<line x1="444.5" y1="331.7" x2="444.5" y2="357" stroke="#3c3c3c" stroke-width="0.9"/>
<path d="M363.5,331 Q369,344 363.5,357" fill="none" stroke="#1f1f1f" stroke-width="0.96"/>
<path d="M436.2,331 Q430.5,344 436.2,357" fill="none" stroke="#1f1f1f" stroke-width="0.96"/>
<rect x="325.5" y="342.5" width="5" height="3" fill="#1f1f1f" stroke="#1f1f1f" stroke-width="0.0"/>
<path d="M337.00,344.00 L329.00,348.60 L329.00,339.40Z" fill="#1f1f1f"/>
<rect x="465" y="342.5" width="6" height="3" fill="#1f1f1f" stroke="#1f1f1f" stroke-width="0.0"/>
<path d="M478.50,344.00 L470.50,348.60 L470.50,339.40Z" fill="#1f1f1f"/>
<line x1="341.5" y1="24" x2="341.5" y2="89" stroke="#2e2e2e" stroke-width="1.0"/>
<line x1="400.5" y1="24" x2="400.5" y2="45.5" stroke="#2e2e2e" stroke-width="1.0"/>
<line x1="341.4" y1="26.5" x2="400.1" y2="26.5" stroke="#2e2e2e" stroke-width="1.0"/>
<path d="M341.40,26.10 L350.40,24.35 L350.40,27.85Z" fill="#1f1f1f"/>
<path d="M400.10,26.10 L391.10,27.85 L391.10,24.35Z" fill="#1f1f1f"/>
<text x="375.7" y="25.2" font-size="12" text-anchor="middle" fill="#151515">AD</text>
<line x1="420" y1="45.5" x2="535" y2="45.5" stroke="#2e2e2e" stroke-width="1.0"/>
<line x1="453" y1="158.5" x2="486" y2="158.5" stroke="#2e2e2e" stroke-width="1.0"/>
<line x1="484.5" y1="45.6" x2="484.5" y2="158.5" stroke="#2e2e2e" stroke-width="1.0"/>
<path d="M484.20,45.60 L485.95,54.60 L482.45,54.60Z" fill="#1f1f1f"/>
<path d="M484.20,158.50 L482.45,149.50 L485.95,149.50Z" fill="#1f1f1f"/>
<text x="488.6" y="103.7" font-size="12" text-anchor="start" fill="#151515">M</text>
<line x1="532.5" y1="45.6" x2="532.5" y2="380.6" stroke="#2e2e2e" stroke-width="1.0"/>
<path d="M532.00,45.60 L533.75,54.60 L530.25,54.60Z" fill="#1f1f1f"/>
<path d="M532.00,380.60 L530.25,371.60 L533.75,371.60Z" fill="#1f1f1f"/>
<text x="535.8" y="217.1" font-size="12" text-anchor="start" fill="#151515">fM</text>
<text x="304.3" y="120.9" font-size="12" text-anchor="start" fill="#151515">(4)</text>
<line x1="323.5" y1="116.3" x2="346" y2="117.2" stroke="#2e2e2e" stroke-width="1.0"/>
<text x="320.9" y="185" font-size="12" text-anchor="start" textLength="29.5" lengthAdjust="spacingAndGlyphs" fill="#151515">G 1/4</text>
<text x="328.7" y="198.3" font-size="12" text-anchor="start" fill="#151515">(1)</text>
<line x1="348.7" y1="195.2" x2="381.7" y2="203.9" stroke="#2e2e2e" stroke-width="1.0"/>
<line x1="318.5" y1="301.3" x2="318.5" y2="371.7" stroke="#2e2e2e" stroke-width="1.0"/>
<path d="M318.80,332.30 L317.05,323.30 L320.55,323.30Z" fill="#1f1f1f"/>
<path d="M318.80,356.60 L320.55,365.60 L317.05,365.60Z" fill="#1f1f1f"/>
<line x1="318.8" y1="332.5" x2="337.4" y2="332.5" stroke="#2e2e2e" stroke-width="1.0"/>
<line x1="318.8" y1="356.5" x2="337.4" y2="356.5" stroke="#2e2e2e" stroke-width="1.0"/>
<text x="317.0" y="311.3" font-size="12" text-anchor="middle" transform="rotate(-90 317.0 311.3)" fill="#151515">DN</text>
<line x1="489.5" y1="301" x2="489.5" y2="371.3" stroke="#2e2e2e" stroke-width="1.0"/>
<path d="M489.30,332.40 L487.55,323.40 L491.05,323.40Z" fill="#1f1f1f"/>
<path d="M489.30,356.30 L491.05,365.30 L487.55,365.30Z" fill="#1f1f1f"/>
<line x1="462" y1="332.5" x2="489.3" y2="332.5" stroke="#2e2e2e" stroke-width="1.0"/>
<line x1="462" y1="356.5" x2="489.3" y2="356.5" stroke="#2e2e2e" stroke-width="1.0"/>
<text x="486.3" y="312.9" font-size="12" text-anchor="middle" transform="rotate(-90 486.3 312.9)" fill="#151515">DN</text>
<line x1="478.3" y1="343.5" x2="509" y2="343.5" stroke="#2e2e2e" stroke-width="1.0"/>
<line x1="507.5" y1="344.2" x2="507.5" y2="381" stroke="#2e2e2e" stroke-width="1.0"/>
<path d="M507.20,344.20 L508.95,353.20 L505.45,353.20Z" fill="#1f1f1f"/>
<path d="M507.20,381.00 L505.45,372.00 L508.95,372.00Z" fill="#1f1f1f"/>
<text x="511.5" y="367.6" font-size="12" text-anchor="start" fill="#151515">h1</text>
<line x1="352" y1="381.5" x2="534" y2="381.5" stroke="#2e2e2e" stroke-width="1.0"/>
<line x1="351.5" y1="366" x2="351.5" y2="400" stroke="#2e2e2e" stroke-width="1.0"/>
<path d="M351.80,370.90 L350.05,361.90 L353.55,361.90Z" fill="#1f1f1f"/>
<path d="M351.80,381.30 L353.55,390.30 L350.05,390.30Z" fill="#1f1f1f"/>
<line x1="351.8" y1="370.5" x2="358.3" y2="370.5" stroke="#2e2e2e" stroke-width="1.0"/>
<text x="348.6" y="392.6" font-size="12" text-anchor="middle" transform="rotate(-90 348.6 392.6)" fill="#151515">25</text>
<text x="415.7" y="388" font-size="8" text-anchor="start" textLength="33" lengthAdjust="spacingAndGlyphs" fill="#151515">4.93.210/2</text>
<line x1="336.5" y1="377.5" x2="336.5" y2="406" stroke="#2e2e2e" stroke-width="1.0"/>
<line x1="462.5" y1="343" x2="462.5" y2="406" stroke="#2e2e2e" stroke-width="1.0"/>
<line x1="337" y1="405.5" x2="462.6" y2="405.5" stroke="#2e2e2e" stroke-width="1.0"/>
<path d="M337.00,405.40 L346.00,403.65 L346.00,407.15Z" fill="#1f1f1f"/>
<path d="M462.60,405.40 L453.60,407.15 L453.60,403.65Z" fill="#1f1f1f"/>
<text x="400.9" y="403" font-size="12" text-anchor="middle" fill="#151515">a</text>
<text x="151.8" y="180.9" font-size="13" text-anchor="start" font-weight="bold" textLength="68" lengthAdjust="spacingAndGlyphs" fill="#151515">Овальные</text>
<text x="151.8" y="196.5" font-size="13" text-anchor="start" font-weight="bold" textLength="101" lengthAdjust="spacingAndGlyphs" fill="#151515">контрофланцы</text>
<line x1="193" y1="217.5" x2="246" y2="217.5" stroke="#2e2e2e" stroke-width="1.0"/>
<path d="M207.00,217.40 L198.00,219.15 L198.00,215.65Z" fill="#1f1f1f"/>
<path d="M221.00,217.40 L230.00,215.65 L230.00,219.15Z" fill="#1f1f1f"/>
<text x="231.7" y="214.8" font-size="12" text-anchor="start" textLength="13.5" lengthAdjust="spacingAndGlyphs" fill="#151515">34</text>
<line x1="207.5" y1="217.4" x2="207.5" y2="230.5" stroke="#2e2e2e" stroke-width="1.0"/>
<line x1="221.5" y1="217.4" x2="221.5" y2="240.5" stroke="#2e2e2e" stroke-width="1.0"/>
<path d="M207.5,230.5 L211.5,230.5 L211.5,240.5 L220.5,240.5 L220.5,266.5 L211.5,266.5 L211.5,279.5 L207.5,279.5Z" fill="#fff" stroke="#1f1f1f" stroke-width="1.2"/>
<line x1="205" y1="236.5" x2="213" y2="236.5" stroke="#2e2e2e" stroke-width="1.0"/>
<line x1="205" y1="253.5" x2="213" y2="253.5" stroke="#2e2e2e" stroke-width="1.0"/>
<line x1="205" y1="274.5" x2="213" y2="274.5" stroke="#2e2e2e" stroke-width="1.0"/>
<line x1="209.5" y1="230.5" x2="209.5" y2="282" stroke="#2e2e2e" stroke-width="1.0"/>
<line x1="211.5" y1="243.5" x2="220.5" y2="243.5" stroke="#3c3c3c" stroke-width="0.9"/>
<line x1="211.5" y1="263.5" x2="220.5" y2="263.5" stroke="#3c3c3c" stroke-width="0.9"/>
<line x1="188.5" y1="225" x2="188.5" y2="281" stroke="#2e2e2e" stroke-width="1.0"/>
<path d="M188.30,244.30 L186.55,235.30 L190.05,235.30Z" fill="#1f1f1f"/>
<path d="M188.30,264.30 L190.05,273.30 L186.55,273.30Z" fill="#1f1f1f"/>
<line x1="188.3" y1="244.5" x2="207" y2="244.5" stroke="#2e2e2e" stroke-width="1.0"/>
<line x1="188.3" y1="264.5" x2="207" y2="264.5" stroke="#2e2e2e" stroke-width="1.0"/>
<text x="184" y="253" font-size="12" text-anchor="middle" transform="rotate(-90 184 253)" fill="#151515">DN 50</text>
<line x1="244.5" y1="232" x2="244.5" y2="279" stroke="#2e2e2e" stroke-width="1.0"/>
<path d="M244.70,242.60 L242.95,233.60 L246.45,233.60Z" fill="#1f1f1f"/>
<path d="M244.70,265.70 L246.45,274.70 L242.95,274.70Z" fill="#1f1f1f"/>
<line x1="221" y1="242.5" x2="244.7" y2="242.5" stroke="#2e2e2e" stroke-width="1.0"/>
<line x1="221" y1="265.5" x2="244.7" y2="265.5" stroke="#2e2e2e" stroke-width="1.0"/>
<text x="241.4" y="254.8" font-size="12" text-anchor="middle" transform="rotate(-90 241.4 254.8)" fill="#151515">G 2</text>
<text x="172.6" y="315.5" font-size="12" text-anchor="start" textLength="84.7" lengthAdjust="spacingAndGlyphs" fill="#151515">N. 2 FORI M 12</text>
<line x1="170.3" y1="320.5" x2="253.5" y2="320.5" stroke="#2e2e2e" stroke-width="1.0"/>
<line x1="170.3" y1="320.2" x2="198.9" y2="343.5" stroke="#2e2e2e" stroke-width="1.0"/>
<path d="M195.7,345.6 Q196,342 199.5,340.5 L222.3,330 L245.3,340.5 Q248.8,342 249,345.6 Q248.8,349.3 245.3,350.8 L222.3,361.3 L199.5,350.8 Q196,349.3 195.7,345.6Z" fill="#fff" stroke="#1f1f1f" stroke-width="1.08"/>
<circle cx="222.3" cy="345.5" r="14.6" fill="#fff" stroke="#1f1f1f" stroke-width="1.44"/>
<circle cx="222.3" cy="345.5" r="12.9" fill="none" stroke="#4a4a4a" stroke-width="2.4"/>
<circle cx="222.3" cy="345.5" r="10.9" fill="#fff" stroke="#1f1f1f" stroke-width="1.2"/>
<line x1="222.5" y1="333.5" x2="222.5" y2="357.5" stroke="#3c3c3c" stroke-width="0.9"/>
<line x1="209.5" y1="345.5" x2="235" y2="345.5" stroke="#3c3c3c" stroke-width="0.9"/>
<circle cx="200.7" cy="345.2" r="2.4" fill="#fff" stroke="#1f1f1f" stroke-width="2.04"/>
<circle cx="243.2" cy="345.2" r="2.4" fill="#fff" stroke="#1f1f1f" stroke-width="2.04"/>
<text x="164.7" y="375.7" font-size="12" text-anchor="start" textLength="34.2" lengthAdjust="spacingAndGlyphs" fill="#151515">DN 50</text>
<line x1="163.6" y1="378.5" x2="232.7" y2="378.5" stroke="#2e2e2e" stroke-width="1.0"/>
<path d="M211.90,378.20 L202.90,379.95 L202.90,376.45Z" fill="#1f1f1f"/>
<path d="M232.70,378.20 L241.70,376.45 L241.70,379.95Z" fill="#1f1f1f"/>
<line x1="211.5" y1="357" x2="211.5" y2="379" stroke="#3c3c3c" stroke-width="0.9"/>
<line x1="232.5" y1="357" x2="232.5" y2="379" stroke="#3c3c3c" stroke-width="0.9"/>
<line x1="200.5" y1="348" x2="200.5" y2="397" stroke="#2e2e2e" stroke-width="1.0"/>
<line x1="243.5" y1="348" x2="243.5" y2="397" stroke="#2e2e2e" stroke-width="1.0"/>
<line x1="200.9" y1="395.5" x2="243" y2="395.5" stroke="#2e2e2e" stroke-width="1.0"/>
<path d="M200.90,395.00 L209.90,393.25 L209.90,396.75Z" fill="#1f1f1f"/>
<path d="M243.00,395.00 L234.00,396.75 L234.00,393.25Z" fill="#1f1f1f"/>
<text x="222.3" y="391.5" font-size="12" text-anchor="middle" fill="#151515">100</text>
<line x1="195.5" y1="347" x2="195.5" y2="362.7" stroke="#2e2e2e" stroke-width="1.0"/>
<line x1="195.5" y1="382.9" x2="195.5" y2="417" stroke="#2e2e2e" stroke-width="1.0"/>
<line x1="249.5" y1="347" x2="249.5" y2="417" stroke="#2e2e2e" stroke-width="1.0"/>
<line x1="195.5" y1="415.5" x2="248.8" y2="415.5" stroke="#2e2e2e" stroke-width="1.0"/>
<path d="M195.50,415.00 L204.50,413.25 L204.50,416.75Z" fill="#1f1f1f"/>
<path d="M248.80,415.00 L239.80,416.75 L239.80,413.25Z" fill="#1f1f1f"/>
<text x="222.3" y="412.8" font-size="12" text-anchor="middle" fill="#151515">130</text>
<text x="10.1" y="445" font-size="11" text-anchor="start" textLength="153.5" lengthAdjust="spacingAndGlyphs" fill="#151515">(1) Заливка и стравливание</text>
<text x="10.1" y="459.8" font-size="11" text-anchor="start" textLength="238.5" lengthAdjust="spacingAndGlyphs" fill="#151515">(2) Стравливание давления на всасывании</text>
<text x="10.1" y="474.7" font-size="11" text-anchor="start" textLength="46.5" lengthAdjust="spacingAndGlyphs" fill="#151515">(3) Слив</text>
<text x="10.1" y="490.2" font-size="11" text-anchor="start" textLength="270.3" lengthAdjust="spacingAndGlyphs" fill="#151515">(4) Стандартное положение контактной коробки</text>
<text x="28" y="500.8" font-size="11" text-anchor="start" textLength="217" lengthAdjust="spacingAndGlyphs" fill="#151515">(другие положения при поворачивании</text>
<text x="30.5" y="515.5" font-size="11" text-anchor="start" textLength="137.5" lengthAdjust="spacingAndGlyphs" fill="#151515">двигателя на 90° и 180°)</text>
<text x="10.1" y="534.5" font-size="11" text-anchor="start" textLength="198" lengthAdjust="spacingAndGlyphs" fill="#151515">(5) MXV (L) : + 3 kg&#160; MXV (H) : + 3 kg</text>
<text x="10.1" y="549.4" font-size="11" text-anchor="start" textLength="176.5" lengthAdjust="spacingAndGlyphs" fill="#151515">(6) Со стандартным двигателем</text>
<text x="10.1" y="564.3" font-size="11" text-anchor="start" textLength="71.5" lengthAdjust="spacingAndGlyphs" fill="#151515">(7) Вес нетто</text>
<text x="10.1" y="579.3" font-size="11" text-anchor="start" textLength="170.5" lengthAdjust="spacingAndGlyphs" fill="#151515">(8) Овальные фланцы MXV (O)</text>
<path d="M603.2,148.5 Q603,144.5 607,144.3 L610.5,144.3 Q612.5,144.5 613.5,146.5 L619,159.7 L612,163.2 Q610,162.5 609.5,160.5Z" fill="#c7e7f7" stroke="#1f1f1f" stroke-width="1.2"/>
<path d="M720.3,148.5 Q720.5,144.5 716.5,144.3 L713,144.3 Q711,144.5 710,146.5 L704.5,159.7 L711.5,163.2 Q713.5,162.5 714,160.5Z" fill="#c7e7f7" stroke="#1f1f1f" stroke-width="1.2"/>
<path d="M606.5,148.5 Q606.5,147 608.5,147.2 L614,157.5 Q614,159 612.5,158.8Z" fill="none" stroke="#1f1f1f" stroke-width="0.96"/>
<path d="M717,148.5 Q717,147 715,147.2 L709.5,157.5 Q709.5,159 711,158.8Z" fill="none" stroke="#1f1f1f" stroke-width="0.96"/>
<rect x="611.5" y="159.5" width="102.0" height="3.0" fill="#c7e7f7" stroke="#1f1f1f" stroke-width="1.0"/>
<path d="M614,162.9 L710,162.9 L703,165.4 L621,165.4Z" fill="#c7e7f7" stroke="#1f1f1f" stroke-width="0.84"/>
<rect x="616.5" y="165.5" width="7.0" height="4.0" fill="#c7e7f7" stroke="#1f1f1f" stroke-width="1.0"/>
<rect x="703.5" y="165.5" width="7.0" height="4.0" fill="#c7e7f7" stroke="#1f1f1f" stroke-width="1.0"/>
<rect x="631.5" y="165.5" width="65.0" height="8.0" fill="#c7e7f7" stroke="#1f1f1f" stroke-width="1.0"/>
<line x1="638.5" y1="165.4" x2="638.5" y2="173.2" stroke="#3c3c3c" stroke-width="0.9"/>
<line x1="690.5" y1="165.4" x2="690.5" y2="173.2" stroke="#3c3c3c" stroke-width="0.9"/>
<path d="M640.3,173.2 L687.6,173.2 L687.6,176 L684.8,178 L643.1,178 L640.3,176Z" fill="#c7e7f7" stroke="#1f1f1f" stroke-width="0.96"/>
<path d="M643.1,178 L684.8,178 L684.8,211 Q664,214 643.1,211Z" fill="#c7e7f7" stroke="#1f1f1f" stroke-width="1.08"/>
<line x1="652.5" y1="178" x2="652.5" y2="211.5" stroke="#2e2e2e" stroke-width="1.0"/>
<line x1="678.5" y1="178" x2="678.5" y2="211.5" stroke="#2e2e2e" stroke-width="1.0"/>
<path d="M645.5,180 L647,183 L647,196 L645.5,199 L645.5,211" fill="none" stroke="#1f1f1f" stroke-width="1.08"/>
<path d="M682.4,180 L681,183 L681,196 L682.4,199 L682.4,211" fill="none" stroke="#1f1f1f" stroke-width="1.08"/>
<rect x="622.5" y="212.5" width="82.0" height="7.0" fill="#c7e7f7" stroke="#1f1f1f" stroke-width="1.0"/>
<rect x="630.5" y="219.5" width="69.0" height="4.0" fill="#c7e7f7" stroke="#1f1f1f" stroke-width="1.0"/>
<line x1="645" y1="215.5" x2="683" y2="215.5" stroke="#3c3c3c" stroke-width="0.9"/>
<line x1="645" y1="218.5" x2="683" y2="218.5" stroke="#3c3c3c" stroke-width="0.9"/>
<path d="M622.6,213.5 L629,211 L632,206.5 L641,206.5 L644.5,213 L645,223 L641,228 L631,228 L627.5,222 L622.6,220.5Z" fill="#5a6a72" stroke="#1f1f1f" stroke-width="1.44"/>
<path d="M705,213.5 L698.6,211 L695.6,206.5 L686.6,206.5 L683.1,213 L682.6,223 L686.6,228 L696.6,228 L700.1,222 L705,220.5Z" fill="#5a6a72" stroke="#1f1f1f" stroke-width="1.44"/>
<rect x="630" y="208" width="4" height="19" fill="#222" stroke="#1f1f1f" stroke-width="0.0"/>
<rect x="693.6" y="208" width="4" height="19" fill="#222" stroke="#1f1f1f" stroke-width="0.0"/>
<line x1="635" y1="211" x2="639" y2="227" stroke="#cfe8f4" stroke-width="1.5"/>
<line x1="692.6" y1="211" x2="688.6" y2="227" stroke="#cfe8f4" stroke-width="1.5"/>
<line x1="624" y1="216.5" x2="629" y2="216.5" stroke="#222" stroke-width="1.2"/>
<line x1="698.6" y1="216.5" x2="703.6" y2="216.5" stroke="#222" stroke-width="1.2"/>
<rect x="627.5" y="223.5" width="71.0" height="130.0" fill="#c7e7f7" stroke="#1f1f1f" stroke-width="1.0"/>
<rect x="627.2" y="252.2" width="71.7" height="3.8" fill="#222" stroke="#1f1f1f" stroke-width="0.0"/>
<rect x="627.2" y="327.5" width="71.7" height="3.5" fill="#333" stroke="#1f1f1f" stroke-width="0.0"/>
<rect x="633.5" y="223.5" width="5.0" height="145.0" fill="#c7e7f7" stroke="#1f1f1f" stroke-width="1.0"/>
<rect x="690.5" y="223.5" width="5.0" height="145.0" fill="#c7e7f7" stroke="#1f1f1f" stroke-width="1.0"/>
<path d="M611.5,371.7 L622,371.7 L624,367.8 L704,367.8 L706,371.7 L716.5,371.7 L716.5,382.2 L691.5,382.2 L688.5,378.3 L638.9,378.3 L635.9,382.2 L611.5,382.2Z" fill="#c7e7f7" stroke="#1f1f1f" stroke-width="1.08"/>
<line x1="611.5" y1="374.5" x2="716.5" y2="374.5" stroke="#3c3c3c" stroke-width="0.9"/>
<line x1="614.5" y1="374" x2="614.5" y2="382" stroke="#3c3c3c" stroke-width="0.9"/>
<line x1="617.5" y1="374" x2="617.5" y2="382" stroke="#3c3c3c" stroke-width="0.9"/>
<line x1="620.5" y1="374" x2="620.5" y2="382" stroke="#3c3c3c" stroke-width="0.9"/>
<line x1="707.5" y1="374" x2="707.5" y2="382" stroke="#3c3c3c" stroke-width="0.9"/>
<line x1="710.5" y1="374" x2="710.5" y2="382" stroke="#3c3c3c" stroke-width="0.9"/>
<line x1="713.5" y1="374" x2="713.5" y2="382" stroke="#3c3c3c" stroke-width="0.9"/>
<rect x="626" y="362" width="8" height="6" fill="#333" stroke="#1f1f1f" stroke-width="0.0"/>
<rect x="693" y="362" width="8" height="6" fill="#333" stroke="#1f1f1f" stroke-width="0.0"/>
<circle cx="663.5" cy="345" r="34.9" fill="#c7e7f7" stroke="#1f1f1f" stroke-width="1.44"/>
<circle cx="663.5" cy="345" r="32.2" fill="none" stroke="#1f1f1f" stroke-width="0.84"/>
<circle cx="663.5" cy="345" r="29.2" fill="none" stroke="#1f1f1f" stroke-width="2.52"/>
<circle cx="663.5" cy="345" r="24.2" fill="none" stroke="#1f1f1f" stroke-width="0.84"/>
<circle cx="663.5" cy="345" r="21.2" fill="none" stroke="#1f1f1f" stroke-width="1.56"/>
<circle cx="663.5" cy="345" r="19" fill="none" stroke="#1f1f1f" stroke-width="0.72"/>
<circle cx="663.5" cy="345" r="14.3" fill="none" stroke="#1f1f1f" stroke-width="2.64"/>
<circle cx="663.5" cy="345" r="12.2" fill="#c7e7f7" stroke="#1f1f1f" stroke-width="1.08"/>
<path d="M638.8,331.0 Q644.8,322.5 650.8,331.0Z" fill="#2a2a2a" stroke="#1f1f1f" stroke-width="0.0"/>
<path d="M676.2,331.0 Q682.2,322.5 688.2,331.0Z" fill="#2a2a2a" stroke="#1f1f1f" stroke-width="0.0"/>
<path d="M638.8,359.8 Q644.8,368.3 650.8,359.8Z" fill="#2a2a2a" stroke="#1f1f1f" stroke-width="0.0"/>
<path d="M676.2,359.8 Q682.2,368.3 688.2,359.8Z" fill="#2a2a2a" stroke="#1f1f1f" stroke-width="0.0"/>
<rect x="656.5" y="376" width="14" height="4.5" fill="#444" stroke="#1f1f1f" stroke-width="0.0"/>
<rect x="622.5" y="347.5" width="4.0" height="11.0" fill="#c7e7f7" stroke="#1f1f1f" stroke-width="1.0"/>
<rect x="700.5" y="347.5" width="5.0" height="11.0" fill="#c7e7f7" stroke="#1f1f1f" stroke-width="1.0"/>
<rect x="705.5" y="350.5" width="2.0" height="4.0" fill="#c7e7f7" stroke="#1f1f1f" stroke-width="1.0"/>
<text x="582.1" y="188.7" font-size="12" text-anchor="start" textLength="29" lengthAdjust="spacingAndGlyphs" fill="#151515">G 1/4</text>
<text x="589.6" y="203.4" font-size="12" text-anchor="start" fill="#151515">(1)</text>
<line x1="609.1" y1="199.5" x2="632.6" y2="208.3" stroke="#2e2e2e" stroke-width="1.0"/>
<text x="716.3" y="188.7" font-size="12" text-anchor="start" textLength="29" lengthAdjust="spacingAndGlyphs" fill="#151515">G 1/4</text>
<text x="723.6" y="203.4" font-size="12" text-anchor="start" fill="#151515">(1)</text>
<line x1="720.7" y1="201.4" x2="697.2" y2="209.2" stroke="#2e2e2e" stroke-width="1.0"/>
<text x="579.5" y="298.9" font-size="12" text-anchor="start" textLength="29.5" lengthAdjust="spacingAndGlyphs" fill="#151515">G 3/8</text>
<text x="586.9" y="312.2" font-size="12" text-anchor="start" fill="#151515">(3)</text>
<line x1="597" y1="317.5" x2="622.7" y2="349" stroke="#2e2e2e" stroke-width="1.0"/>
<text x="715.9" y="298.9" font-size="12" text-anchor="start" textLength="29.5" lengthAdjust="spacingAndGlyphs" fill="#151515">G 3/8</text>
<text x="723.5" y="312.2" font-size="12" text-anchor="start" fill="#151515">(2)</text>
<line x1="729.1" y1="317" x2="706" y2="350.1" stroke="#2e2e2e" stroke-width="1.0"/>
<text x="800.7" y="163.9" font-size="12" text-anchor="start" textLength="35.7" lengthAdjust="spacingAndGlyphs" fill="#151515">DN 50</text>
<line x1="783.5" y1="181.5" x2="783.5" y2="266" stroke="#2e2e2e" stroke-width="1.0"/>
<line x1="852.5" y1="181.5" x2="852.5" y2="266" stroke="#2e2e2e" stroke-width="1.0"/>
<line x1="793.5" y1="197" x2="793.5" y2="266" stroke="#2e2e2e" stroke-width="1.0"/>
<line x1="842.5" y1="197" x2="842.5" y2="266" stroke="#2e2e2e" stroke-width="1.0"/>
<line x1="799.5" y1="212.4" x2="799.5" y2="262" stroke="#2e2e2e" stroke-width="1.0"/>
<line x1="837.5" y1="212.4" x2="837.5" y2="262" stroke="#2e2e2e" stroke-width="1.0"/>
<line x1="808.5" y1="228.4" x2="808.5" y2="262" stroke="#2e2e2e" stroke-width="1.0"/>
<line x1="827.5" y1="228.4" x2="827.5" y2="262" stroke="#2e2e2e" stroke-width="1.0"/>
<circle cx="817.9" cy="271" r="35.1" fill="none" stroke="#1f1f1f" stroke-width="1.08"/>
<circle cx="817.9" cy="271" r="18" fill="none" stroke="#1f1f1f" stroke-width="1.08"/>
<circle cx="817.9" cy="271" r="8.5" fill="#fff" stroke="#1f1f1f" stroke-width="1.08"/>
<circle cx="817.9" cy="271" r="24.7" fill="none" stroke="#1f1f1f" stroke-width="0.84" stroke-dasharray="7 2 1.5 2"/>
<circle cx="800.9" cy="255.2" r="4.4" fill="#fff" stroke="#1f1f1f" stroke-width="1.08"/>
<line x1="797.8" y1="252.1" x2="804.0" y2="258.3" stroke="#2e2e2e" stroke-width="1.0"/>
<line x1="797.8" y1="258.3" x2="804.0" y2="252.1" stroke="#2e2e2e" stroke-width="1.0"/>
<circle cx="834.9" cy="255.2" r="4.4" fill="#fff" stroke="#1f1f1f" stroke-width="1.08"/>
<line x1="831.8" y1="252.1" x2="838.0" y2="258.3" stroke="#2e2e2e" stroke-width="1.0"/>
<line x1="831.8" y1="258.3" x2="838.0" y2="252.1" stroke="#2e2e2e" stroke-width="1.0"/>
<circle cx="800.9" cy="287.5" r="4.4" fill="#fff" stroke="#1f1f1f" stroke-width="1.08"/>
<line x1="797.8" y1="284.4" x2="804.0" y2="290.6" stroke="#2e2e2e" stroke-width="1.0"/>
<line x1="797.8" y1="290.6" x2="804.0" y2="284.4" stroke="#2e2e2e" stroke-width="1.0"/>
<circle cx="834.9" cy="287.5" r="4.4" fill="#fff" stroke="#1f1f1f" stroke-width="1.08"/>
<line x1="831.8" y1="284.4" x2="838.0" y2="290.6" stroke="#2e2e2e" stroke-width="1.0"/>
<line x1="831.8" y1="290.6" x2="838.0" y2="284.4" stroke="#2e2e2e" stroke-width="1.0"/>
<line x1="771.2" y1="271.5" x2="866.1" y2="271.5" stroke="#2e2e2e" stroke-width="1.0" stroke-dasharray="10 2.5 2 2.5"/>
<line x1="817.5" y1="232.7" x2="817.5" y2="308.5" stroke="#2e2e2e" stroke-width="1.0" stroke-dasharray="10 2.5 2 2.5"/>
<line x1="783.4" y1="183.5" x2="852.6" y2="183.5" stroke="#2e2e2e" stroke-width="1.0"/>
<path d="M783.70,183.70 L790.70,182.20 L790.70,185.20Z" fill="#1f1f1f"/>
<path d="M852.30,183.70 L845.30,185.20 L845.30,182.20Z" fill="#1f1f1f"/>
<text x="819" y="181.9" font-size="9.3" text-anchor="middle" textLength="14.6" lengthAdjust="spacingAndGlyphs" fill="#151515">DE</text>
<line x1="793.2" y1="199.5" x2="842.6" y2="199.5" stroke="#2e2e2e" stroke-width="1.0"/>
<path d="M793.50,199.20 L800.50,197.70 L800.50,200.70Z" fill="#1f1f1f"/>
<path d="M842.30,199.20 L835.30,200.70 L835.30,197.70Z" fill="#1f1f1f"/>
<text x="819" y="196.9" font-size="9.3" text-anchor="middle" textLength="14.6" lengthAdjust="spacingAndGlyphs" fill="#151515">DK</text>
<line x1="799.2" y1="214.5" x2="837.1" y2="214.5" stroke="#2e2e2e" stroke-width="1.0"/>
<path d="M799.50,214.70 L806.50,213.20 L806.50,216.20Z" fill="#1f1f1f"/>
<path d="M836.80,214.70 L829.80,216.20 L829.80,213.20Z" fill="#1f1f1f"/>
<text x="819" y="212.5" font-size="9.3" text-anchor="middle" textLength="15.4" lengthAdjust="spacingAndGlyphs" fill="#151515">DG</text>
<line x1="808.8" y1="230.5" x2="827.3" y2="230.5" stroke="#2e2e2e" stroke-width="1.0"/>
<path d="M809.10,230.30 L816.10,228.80 L816.10,231.80Z" fill="#1f1f1f"/>
<path d="M827.00,230.30 L820.00,231.80 L820.00,228.80Z" fill="#1f1f1f"/>
<text x="819" y="226.6" font-size="9.3" text-anchor="middle" textLength="14.2" lengthAdjust="spacingAndGlyphs" fill="#151515">DN</text>
<line x1="838" y1="295.7" x2="849.6" y2="308" stroke="#2e2e2e" stroke-width="1.0"/>
<line x1="842.6" y1="289.5" x2="855.7" y2="301.1" stroke="#2e2e2e" stroke-width="1.0"/>
<line x1="831.8" y1="322.7" x2="862.7" y2="294.2" stroke="#2e2e2e" stroke-width="1.0"/>
<path d="M849.60,307.60 L846.16,312.74 L844.15,310.52Z" fill="#1f1f1f"/>
<path d="M855.70,301.50 L859.14,296.36 L861.15,298.58Z" fill="#1f1f1f"/>
<text x="830.3" y="315.8" font-size="10.5" text-anchor="middle" transform="rotate(-48 830.3 315.8)" fill="#151515" dominant-baseline="middle">d</text>
<line x1="400" y1="426.5" x2="508.7" y2="426.5" stroke="#2e2e2e" stroke-width="1.0"/>
<line x1="418.5" y1="433.5" x2="484.3" y2="433.5" stroke="#2e2e2e" stroke-width="1.0"/>
<line x1="418.5" y1="520.5" x2="484.3" y2="520.5" stroke="#2e2e2e" stroke-width="1.0"/>
<line x1="376.4" y1="527.5" x2="508.7" y2="527.5" stroke="#2e2e2e" stroke-width="1.0"/>
<defs><linearGradient id="fbg" x1="0" x2="1" y1="0" y2="0"><stop offset="0" stop-color="#5f7b89"/><stop offset="0.35" stop-color="#b9d7e6"/><stop offset="0.6" stop-color="#9dbccb"/><stop offset="1" stop-color="#57717e"/></linearGradient></defs>
<rect x="337.5" y="444.5" width="9.0" height="66.0" fill="url(#fbg)" stroke="#1f1f1f" stroke-width="1.0" rx="1.5"/>
<rect x="452.5" y="444.5" width="9.0" height="66.0" fill="url(#fbg)" stroke="#1f1f1f" stroke-width="1.0" rx="1.5"/>
<g transform="rotate(-22 376.5 424.5)"><rect x="368.5" y="420.0" width="16" height="9" fill="#c7e7f7" stroke="#1f1f1f" stroke-width="0.9" rx="2"/><path d="M371.5,423.5 Q376.5,420.5 381.5,423.5 M371.5,426.5 Q376.5,423.5 381.5,426.5" fill="none" stroke="#1f1f1f" stroke-width="0.7"/></g>
<g transform="rotate(-22 421.5 528.5)"><rect x="413.5" y="524.0" width="16" height="9" fill="#c7e7f7" stroke="#1f1f1f" stroke-width="0.9" rx="2"/><path d="M416.5,527.5 Q421.5,524.5 426.5,527.5 M416.5,530.5 Q421.5,527.5 426.5,530.5" fill="none" stroke="#1f1f1f" stroke-width="0.7"/></g>
<circle cx="400" cy="476.8" r="50.5" fill="#c7e7f7" stroke="#1f1f1f" stroke-width="1.2"/>
<g transform="rotate(-45 364 437)"><rect x="358" y="434" width="12" height="6" fill="#c7e7f7" stroke="#1f1f1f" stroke-width="0.9" rx="1"/><rect x="361" y="434" width="6" height="6" fill="#3a3a3a" stroke="none"/></g>
<g transform="rotate(45 435.5 438)"><rect x="429.5" y="435" width="12" height="6" fill="#c7e7f7" stroke="#1f1f1f" stroke-width="0.9" rx="1"/><rect x="432.5" y="435" width="6" height="6" fill="#3a3a3a" stroke="none"/></g>
<g transform="rotate(45 363.5 516)"><rect x="357.5" y="513" width="12" height="6" fill="#c7e7f7" stroke="#1f1f1f" stroke-width="0.9" rx="1"/><rect x="360.5" y="513" width="6" height="6" fill="#3a3a3a" stroke="none"/></g>
<g transform="rotate(-45 436 516)"><rect x="430" y="513" width="12" height="6" fill="#c7e7f7" stroke="#1f1f1f" stroke-width="0.9" rx="1"/><rect x="433" y="513" width="6" height="6" fill="#3a3a3a" stroke="none"/></g>
<rect x="360.0" y="439.1" width="15" height="15" fill="#c7e7f7" stroke="#1f1f1f" stroke-width="0.8" transform="rotate(45 367.5 446.6)"/>
<circle cx="367.5" cy="446.6" r="2.8" fill="#eef6fb" stroke="#1f1f1f" stroke-width="0.96"/>
<rect x="425.0" y="439.1" width="15" height="15" fill="#c7e7f7" stroke="#1f1f1f" stroke-width="0.8" transform="rotate(45 432.5 446.6)"/>
<circle cx="432.5" cy="446.6" r="2.8" fill="#eef6fb" stroke="#1f1f1f" stroke-width="0.96"/>
<rect x="360.0" y="499.7" width="15" height="15" fill="#c7e7f7" stroke="#1f1f1f" stroke-width="0.8" transform="rotate(45 367.5 507.2)"/>
<circle cx="367.5" cy="507.2" r="2.8" fill="#eef6fb" stroke="#1f1f1f" stroke-width="0.96"/>
<rect x="425.0" y="499.7" width="15" height="15" fill="#c7e7f7" stroke="#1f1f1f" stroke-width="0.8" transform="rotate(45 432.5 507.2)"/>
<circle cx="432.5" cy="507.2" r="2.8" fill="#eef6fb" stroke="#1f1f1f" stroke-width="0.96"/>
<rect x="438" y="466" width="3.5" height="22" fill="#333" stroke="#1f1f1f" stroke-width="0.0"/>
<path d="M348,457.5 L365,457.5 L365,496.5 L348,496.5 Z" fill="#d9d9d9" stroke="#1f1f1f" stroke-width="1.08"/>
<path d="M348,460.5 Q341.5,461 341.5,467 L341.5,487 Q341.5,493 348,493.5Z" fill="#8c8c8c" stroke="#1f1f1f" stroke-width="1.08"/>
<line x1="345.5" y1="462" x2="345.5" y2="492" stroke="#3c3c3c" stroke-width="0.9"/>
<rect x="351.5" y="496.5" width="12.5" height="14.3" fill="#2a2a2a" stroke="#1f1f1f" stroke-width="0.0"/>
<line x1="357.5" y1="498" x2="357.5" y2="510" stroke="#9a9a9a" stroke-width="1.0"/>
<line x1="352" y1="500.5" x2="363.5" y2="500.5" stroke="#777" stroke-width="1.0"/>
<circle cx="400" cy="476.8" r="40" fill="#d9d9d9" stroke="#1f1f1f" stroke-width="1.08"/>
<defs><clipPath id="grc"><circle cx="400" cy="476.8" r="28.2"/></clipPath></defs>
<circle cx="400" cy="476.8" r="28.8" fill="#8a8a8a" stroke="#1f1f1f" stroke-width="0.0"/>
<g clip-path="url(#grc)">
<rect x="370" y="446.70" width="60" height="1.3" fill="#f2f2f2"/>
<rect x="370" y="450.20" width="60" height="1.4" fill="#2c2c2c"/>
<rect x="370" y="448.00" width="60" height="2.2" fill="#9c9c9c"/>
<rect x="370" y="453.70" width="60" height="1.3" fill="#f2f2f2"/>
<rect x="370" y="457.20" width="60" height="1.4" fill="#2c2c2c"/>
<rect x="370" y="455.00" width="60" height="2.2" fill="#9c9c9c"/>
<rect x="370" y="460.70" width="60" height="1.3" fill="#f2f2f2"/>
<rect x="370" y="464.20" width="60" height="1.4" fill="#2c2c2c"/>
<rect x="370" y="462.00" width="60" height="2.2" fill="#9c9c9c"/>
<rect x="370" y="467.70" width="60" height="1.3" fill="#f2f2f2"/>
<rect x="370" y="471.20" width="60" height="1.4" fill="#2c2c2c"/>
<rect x="370" y="469.00" width="60" height="2.2" fill="#9c9c9c"/>
<rect x="370" y="474.70" width="60" height="1.3" fill="#f2f2f2"/>
<rect x="370" y="478.20" width="60" height="1.4" fill="#2c2c2c"/>
<rect x="370" y="476.00" width="60" height="2.2" fill="#9c9c9c"/>
<rect x="370" y="481.70" width="60" height="1.3" fill="#f2f2f2"/>
<rect x="370" y="485.20" width="60" height="1.4" fill="#2c2c2c"/>
<rect x="370" y="483.00" width="60" height="2.2" fill="#9c9c9c"/>
<rect x="370" y="488.70" width="60" height="1.3" fill="#f2f2f2"/>
<rect x="370" y="492.20" width="60" height="1.4" fill="#2c2c2c"/>
<rect x="370" y="490.00" width="60" height="2.2" fill="#9c9c9c"/>
<rect x="370" y="495.70" width="60" height="1.3" fill="#f2f2f2"/>
<rect x="370" y="499.20" width="60" height="1.4" fill="#2c2c2c"/>
<rect x="370" y="497.00" width="60" height="2.2" fill="#9c9c9c"/>
<rect x="370" y="502.70" width="60" height="1.3" fill="#f2f2f2"/>
<rect x="370" y="506.20" width="60" height="1.4" fill="#2c2c2c"/>
<rect x="370" y="504.00" width="60" height="2.2" fill="#9c9c9c"/>
<rect x="385.9" y="440" width="1.1" height="80" fill="#d0d0d0"/>
<rect x="412.0" y="440" width="1.1" height="80" fill="#d0d0d0"/>
</g>
<circle cx="400" cy="476.8" r="28.8" fill="none" stroke="#2a2a2a" stroke-width="2.16"/>
<rect x="396.5" y="474.2" width="2.8" height="2.8" fill="#f0f0f0" stroke="#1f1f1f" stroke-width="0.0"/>
<rect x="400.1" y="474.2" width="2.8" height="2.8" fill="#f0f0f0" stroke="#1f1f1f" stroke-width="0.0"/>
<rect x="396.5" y="477.8" width="2.8" height="2.8" fill="#f0f0f0" stroke="#1f1f1f" stroke-width="0.0"/>
<rect x="400.1" y="477.8" width="2.8" height="2.8" fill="#f0f0f0" stroke="#1f1f1f" stroke-width="0.0"/>
<line x1="327.6" y1="476.5" x2="470" y2="476.5" stroke="#2e2e2e" stroke-width="1.0"/>
<line x1="400.5" y1="421" x2="400.5" y2="533.6" stroke="#2e2e2e" stroke-width="1.0"/>
<line x1="507.5" y1="427.1" x2="507.5" y2="526.8" stroke="#2e2e2e" stroke-width="1.0"/>
<path d="M507.90,427.10 L509.65,436.10 L506.15,436.10Z" fill="#1f1f1f"/>
<path d="M507.90,526.80 L506.15,517.80 L509.65,517.80Z" fill="#1f1f1f"/>
<line x1="483.5" y1="433.8" x2="483.5" y2="520" stroke="#2e2e2e" stroke-width="1.0"/>
<path d="M483.80,433.80 L485.55,442.80 L482.05,442.80Z" fill="#1f1f1f"/>
<path d="M483.80,520.00 L482.05,511.00 L485.55,511.00Z" fill="#1f1f1f"/>
<text x="506.3" y="479" font-size="12" text-anchor="middle" transform="rotate(-90 506.3 479)" fill="#151515">250</text>
<text x="481.8" y="479" font-size="12" text-anchor="middle" transform="rotate(-90 481.8 479)" fill="#151515">215</text>
<line x1="358.5" y1="515.7" x2="358.5" y2="589" stroke="#2e2e2e" stroke-width="1.0"/>
<line x1="441.5" y1="511" x2="441.5" y2="589" stroke="#2e2e2e" stroke-width="1.0"/>
<line x1="372.5" y1="520.2" x2="372.5" y2="566.5" stroke="#2e2e2e" stroke-width="1.0"/>
<line x1="369.5" y1="520.2" x2="369.5" y2="548.5" stroke="#2e2e2e" stroke-width="1.0"/>
<line x1="375.5" y1="523" x2="375.5" y2="548.5" stroke="#2e2e2e" stroke-width="1.0"/>
<line x1="427.5" y1="426" x2="427.5" y2="566.5" stroke="#2e2e2e" stroke-width="1.0"/>
<line x1="370.2" y1="520.5" x2="381" y2="520.5" stroke="#2e2e2e" stroke-width="1.0"/>
<line x1="372.3" y1="565.5" x2="427.2" y2="565.5" stroke="#2e2e2e" stroke-width="1.0"/>
<path d="M372.30,565.70 L381.30,563.95 L381.30,567.45Z" fill="#1f1f1f"/>
<path d="M427.20,565.70 L418.20,567.45 L418.20,563.95Z" fill="#1f1f1f"/>
<text x="400" y="563.8" font-size="12" text-anchor="middle" fill="#151515">130</text>
<line x1="358.4" y1="588.5" x2="440.8" y2="588.5" stroke="#2e2e2e" stroke-width="1.0"/>
<path d="M358.40,588.20 L367.40,586.45 L367.40,589.95Z" fill="#1f1f1f"/>
<path d="M440.80,588.20 L431.80,589.95 L431.80,586.45Z" fill="#1f1f1f"/>
<text x="400" y="585.3" font-size="12" text-anchor="middle" fill="#151515">196</text>
<line x1="358.2" y1="548.5" x2="400" y2="548.5" stroke="#2e2e2e" stroke-width="1.0"/>
<path d="M369.60,548.00 L360.60,549.75 L360.60,546.25Z" fill="#1f1f1f"/>
<path d="M375.30,548.00 L384.30,546.25 L384.30,549.75Z" fill="#1f1f1f"/>
<text x="389.5" y="543.6" font-size="12" text-anchor="middle" fill="#151515">13</text>
<rect x="596" y="453.3" width="80" height="41.8" fill="#fff" stroke="#1f1f1f" stroke-width="0.0"/>
<line x1="596" y1="453.5" x2="676" y2="453.5" stroke="#2e2e2e" stroke-width="1.0"/>
<line x1="596" y1="495.5" x2="676" y2="495.5" stroke="#2e2e2e" stroke-width="1.0"/>
<line x1="596" y1="455.5" x2="676" y2="455.5" stroke="#2e2e2e" stroke-width="1.0"/>
<line x1="596" y1="459.5" x2="676" y2="459.5" stroke="#2e2e2e" stroke-width="1.0"/>
<line x1="596" y1="489.5" x2="676" y2="489.5" stroke="#2e2e2e" stroke-width="1.0"/>
<line x1="596" y1="493.5" x2="676" y2="493.5" stroke="#2e2e2e" stroke-width="1.0"/>
<rect x="651.3" y="453.3" width="3.4" height="41.8" fill="#222" stroke="#1f1f1f" stroke-width="0.0"/>
<rect x="671.5" y="451" width="4" height="46" fill="#222" stroke="#1f1f1f" stroke-width="0.0"/>
<rect x="672.8" y="452" width="1" height="44" fill="#888" stroke="#1f1f1f" stroke-width="0.0"/>
<rect x="675.5" y="450.5" width="4.0" height="47.0" fill="#fff" stroke="#1f1f1f" stroke-width="1.0"/>
<rect x="679.5" y="455.5" width="4.0" height="8.0" fill="#fff" stroke="#1f1f1f" stroke-width="1.0"/>
<rect x="679.5" y="487.5" width="4.0" height="8.0" fill="#fff" stroke="#1f1f1f" stroke-width="1.0"/>
<path d="M576.4,443.9 L582.8,443.9 L582.8,504.4 L576.4,504.4 L576.4,486 L579.3,483 L579.3,465 L576.4,462Z" fill="#fff" stroke="#1f1f1f" stroke-width="1.2"/>
<line x1="579.5" y1="445" x2="579.5" y2="455" stroke="#3c3c3c" stroke-width="0.9"/>
<line x1="579.5" y1="493" x2="579.5" y2="503" stroke="#3c3c3c" stroke-width="0.9"/>
<rect x="582.5" y="452.5" width="4.0" height="44.0" fill="#fff" stroke="#1f1f1f" stroke-width="1.0"/>
<circle cx="599" cy="473.9" r="20.4" fill="#fff" stroke="#1f1f1f" stroke-width="1.8"/>
<circle cx="599" cy="473.9" r="18.7" fill="#2a2a2a" stroke="#1f1f1f" stroke-width="0.0"/>
<circle cx="599" cy="473.9" r="16.2" fill="none" stroke="#fff" stroke-width="2.04" stroke-dasharray="18.5 6.95" stroke-dashoffset="9.25"/>
<circle cx="599" cy="473.9" r="12.6" fill="#fff" stroke="#1f1f1f" stroke-width="0.0"/>
<circle cx="599" cy="473.9" r="10.4" fill="none" stroke="#1f1f1f" stroke-width="2.4"/>
<circle cx="599" cy="473.9" r="6.6" fill="#fff" stroke="#1f1f1f" stroke-width="1.56"/>
<rect x="590.5" y="448.5" width="10.0" height="5.0" fill="#fff" stroke="#1f1f1f" stroke-width="1.0" rx="1.5"/>
<rect x="591.5" y="494.5" width="8.0" height="5.0" fill="#fff" stroke="#1f1f1f" stroke-width="1.0"/>
<line x1="567" y1="473.5" x2="798" y2="473.5" stroke="#2e2e2e" stroke-width="1.0"/>
<path d="M679.3,462.1 L690.1,463.5 L700,464.1 L700,482.8 L690.1,484.5 L679.3,485.7Z" fill="#fff" stroke="#1f1f1f" stroke-width="1.08"/>
<line x1="680" y1="468.5" x2="700" y2="468.5" stroke="#3c3c3c" stroke-width="0.9"/>
<line x1="680" y1="480.5" x2="700" y2="480.5" stroke="#3c3c3c" stroke-width="0.9"/>
<rect x="700.5" y="464.5" width="4.0" height="20.0" fill="#fff" stroke="#1f1f1f" stroke-width="1.0"/>
<rect x="704.5" y="456.5" width="6.0" height="35.0" fill="#fff" stroke="#1f1f1f" stroke-width="1.0"/>
<rect x="710.5" y="443.5" width="4.0" height="61.0" fill="#9a9a9a" stroke="#1f1f1f" stroke-width="1.0"/>
<path d="M714.7,451 Q719.5,452 719.5,456 L719.5,460 L714.7,461Z" fill="#fff" stroke="#1f1f1f" stroke-width="0.96"/>
<path d="M714.7,487 L719.5,488 L719.5,492 Q719.5,496 714.7,497Z" fill="#fff" stroke="#1f1f1f" stroke-width="0.96"/>
<circle cx="716.7" cy="454.7" r="2.2" fill="#fff" stroke="#1f1f1f" stroke-width="0.96"/>
<circle cx="716.7" cy="492.1" r="2.2" fill="#fff" stroke="#1f1f1f" stroke-width="0.96"/>
<rect x="714.5" y="461.5" width="9.0" height="26.0" fill="#fff" stroke="#1f1f1f" stroke-width="1.0"/>
<rect x="706.5" y="469.5" width="15.0" height="10.0" fill="#fff" stroke="#1f1f1f" stroke-width="1.0" rx="3"/>
<circle cx="716.2" cy="473.9" r="3.5" fill="#fff" stroke="#1f1f1f" stroke-width="1.32"/>
<rect x="723.5" y="455.5" width="42.0" height="41.0" fill="#fff" stroke="#1f1f1f" stroke-width="1.0"/>
<line x1="724" y1="457.6" x2="764.5" y2="457.6" stroke="#222" stroke-width="1.25"/>
<line x1="724" y1="461.15000000000003" x2="764.5" y2="461.15000000000003" stroke="#222" stroke-width="1.25"/>
<line x1="724" y1="464.70000000000005" x2="764.5" y2="464.70000000000005" stroke="#222" stroke-width="1.25"/>
<line x1="724" y1="468.25" x2="764.5" y2="468.25" stroke="#222" stroke-width="1.25"/>
<line x1="724" y1="471.8" x2="764.5" y2="471.8" stroke="#222" stroke-width="1.25"/>
<line x1="724" y1="475.35" x2="764.5" y2="475.35" stroke="#222" stroke-width="1.25"/>
<line x1="724" y1="478.90000000000003" x2="764.5" y2="478.90000000000003" stroke="#222" stroke-width="1.25"/>
<line x1="724" y1="482.45000000000005" x2="764.5" y2="482.45000000000005" stroke="#222" stroke-width="1.25"/>
<line x1="724" y1="486.0" x2="764.5" y2="486.0" stroke="#222" stroke-width="1.25"/>
<line x1="724" y1="489.55" x2="764.5" y2="489.55" stroke="#222" stroke-width="1.25"/>
<rect x="740" y="471.5" width="8" height="2.5" fill="#222" stroke="#1f1f1f" stroke-width="0.0"/>
<rect x="723.5" y="440.5" width="33.0" height="15.0" fill="#fff" stroke="#1f1f1f" stroke-width="1.0" rx="1.5"/>
<rect x="725.5" y="440.5" width="30.0" height="3.0" fill="#fff" stroke="#1f1f1f" stroke-width="1.0"/>
<circle cx="735.7" cy="450.2" r="3.3" fill="#fff" stroke="#1f1f1f" stroke-width="2.16"/>
<circle cx="735.7" cy="450.2" r="1.2" fill="#222" stroke="#1f1f1f" stroke-width="0.0"/>
<circle cx="746.7" cy="450.2" r="3.5" fill="#fff" stroke="#1f1f1f" stroke-width="1.2"/>
<rect x="756.5" y="448.5" width="9.0" height="7.0" fill="#fff" stroke="#1f1f1f" stroke-width="1.0"/>
<path d="M765,450.9 L781,450.9 Q783.9,454 783.9,462 L783.9,484 Q783.9,492 781,495.2 L765,495.2Z" fill="#fff" stroke="#1f1f1f" stroke-width="1.2"/>
<line x1="700" y1="474.5" x2="798" y2="474.5" stroke="#2e2e2e" stroke-width="1.0"/>
<line x1="796.5" y1="474.2" x2="796.5" y2="522" stroke="#2e2e2e" stroke-width="1.0"/>
<path d="M796.00,474.40 L797.75,483.40 L794.25,483.40Z" fill="#1f1f1f"/>
<path d="M796.00,521.70 L794.25,512.70 L797.75,512.70Z" fill="#1f1f1f"/>
<text x="793.8" y="500.5" font-size="12" text-anchor="middle" transform="rotate(-90 793.8 500.5)" fill="#151515">200</text>
<line x1="680" y1="521.5" x2="797" y2="521.5" stroke="#2e2e2e" stroke-width="1.0"/>
<line x1="686.5" y1="518" x2="686.5" y2="526" stroke="#3c3c3c" stroke-width="0.9"/>
<line x1="679.5" y1="495" x2="679.5" y2="521.9" stroke="#2e2e2e" stroke-width="1.0"/>
<line x1="690.5" y1="516" x2="690.5" y2="588" stroke="#2e2e2e" stroke-width="1.0"/>
<line x1="575.5" y1="486.5" x2="575.5" y2="588" stroke="#2e2e2e" stroke-width="1.0"/>
<line x1="575.7" y1="521.5" x2="586.1" y2="521.5" stroke="#2e2e2e" stroke-width="1.0"/>
<line x1="586.5" y1="521.2" x2="586.5" y2="564.7" stroke="#2e2e2e" stroke-width="1.0"/>
<line x1="581.5" y1="517" x2="581.5" y2="543" stroke="#3c3c3c" stroke-width="0.9"/>
<line x1="566.1" y1="542.5" x2="608.7" y2="542.5" stroke="#2e2e2e" stroke-width="1.0"/>
<path d="M575.70,542.60 L566.70,544.35 L566.70,540.85Z" fill="#1f1f1f"/>
<path d="M581.70,542.60 L590.70,540.85 L590.70,544.35Z" fill="#1f1f1f"/>
<text x="596.9" y="539.7" font-size="12" text-anchor="start" textLength="12.7" lengthAdjust="spacingAndGlyphs" fill="#151515">15</text>
<line x1="560" y1="564.5" x2="612.2" y2="564.5" stroke="#2e2e2e" stroke-width="1.0"/>
<path d="M575.70,564.70 L566.70,566.45 L566.70,562.95Z" fill="#1f1f1f"/>
<path d="M586.10,564.70 L595.10,562.95 L595.10,566.45Z" fill="#1f1f1f"/>
<text x="598.6" y="561.7" font-size="12" text-anchor="start" textLength="13.2" lengthAdjust="spacingAndGlyphs" fill="#151515">40</text>
<line x1="575.9" y1="587.5" x2="689.9" y2="587.5" stroke="#2e2e2e" stroke-width="1.0"/>
<path d="M575.90,587.80 L584.90,586.05 L584.90,589.55Z" fill="#1f1f1f"/>
<path d="M689.90,587.80 L680.90,589.55 L680.90,586.05Z" fill="#1f1f1f"/>
<text x="638.8" y="586.6" font-size="12" text-anchor="middle" fill="#151515">m4</text>
<text x="596.9" y="419.5" font-size="12" text-anchor="start" textLength="29.2" lengthAdjust="spacingAndGlyphs" fill="#151515">G 3/8</text>
<text x="604.3" y="433" font-size="12" text-anchor="start" fill="#151515">(2)</text>
<line x1="607" y1="438.3" x2="595.7" y2="449.6" stroke="#2e2e2e" stroke-width="1.0"/>
<text x="678.6" y="429.9" font-size="12" text-anchor="start" textLength="29.2" lengthAdjust="spacingAndGlyphs" fill="#151515">G 1/4</text>
<text x="686" y="443.5" font-size="12" text-anchor="start" fill="#151515">(1)</text>
<line x1="691.3" y1="449.6" x2="681.7" y2="460.9" stroke="#2e2e2e" stroke-width="1.0"/>
<text x="607.3" y="515.7" font-size="12" text-anchor="start" textLength="29.2" lengthAdjust="spacingAndGlyphs" fill="#151515">G 3/8</text>
<text x="615.3" y="529.6" font-size="12" text-anchor="start" fill="#151515">(3)</text>
<line x1="595.7" y1="497.4" x2="607" y2="504.3" stroke="#2e2e2e" stroke-width="1.0"/>
<rect x="831.5" y="454.5" width="5.0" height="40.0" fill="#fff" stroke="#1f1f1f" stroke-width="1.0" rx="1"/>
<rect x="900.5" y="454.5" width="6.0" height="40.0" fill="#fff" stroke="#1f1f1f" stroke-width="1.0" rx="1"/>
<rect x="836.5" y="462.5" width="8.0" height="24.0" fill="#fff" stroke="#1f1f1f" stroke-width="1.0"/>
<rect x="893.5" y="462.5" width="7.0" height="24.0" fill="#fff" stroke="#1f1f1f" stroke-width="1.0"/>
<path d="M843,490 L843,460 Q845,451 849,449 L852,448.3 L855,441.5 L881,441.5 L884,448.3 L887,449 Q892,451 894,460 L894,490Z" fill="#fff" stroke="#1f1f1f" stroke-width="1.2"/>
<path d="M846,490 L846,460 Q847,453 851,452 L856,451.5 L858,445 L878,445 L880,451.5 L885,452 Q889,453 891,460 L891,490" fill="none" stroke="#1f1f1f" stroke-width="0.84"/>
<rect x="864.5" y="446.5" width="8.0" height="5.0" fill="#fff" stroke="#1f1f1f" stroke-width="1.0"/>
<rect x="846.5" y="486.5" width="44.0" height="35.0" fill="#aad8f0" stroke="#1f1f1f" stroke-width="1.0" rx="1.5"/>
<line x1="846.5" y1="518.5" x2="890.8" y2="518.5" stroke="#2e2e2e" stroke-width="1.0"/>
<circle cx="868" cy="473.6" r="20.6" fill="#fff" stroke="#1f1f1f" stroke-width="1.8"/>
<circle cx="868" cy="473.6" r="8.3" fill="#fff" stroke="#1f1f1f" stroke-width="1.2"/>
<circle cx="868" cy="473.6" r="4" fill="#fff" stroke="#1f1f1f" stroke-width="1.08"/>
<circle cx="851" cy="490" r="2.3" fill="#fff" stroke="#1f1f1f" stroke-width="1.08"/>
<circle cx="885.7" cy="490" r="2.3" fill="#fff" stroke="#1f1f1f" stroke-width="1.08"/>
<circle cx="851" cy="457.5" r="1.5" fill="#fff" stroke="#1f1f1f" stroke-width="0.96"/>
<circle cx="885.7" cy="457.5" r="1.5" fill="#fff" stroke="#1f1f1f" stroke-width="0.96"/>
<rect x="849" y="498.1" width="4" height="4" fill="#333" transform="rotate(45 851 500.1)"/>
<rect x="883.7" y="498.1" width="4" height="4" fill="#333" transform="rotate(45 885.7 500.1)"/>
<text x="815.3" y="508.3" font-size="12" text-anchor="start" textLength="22.9" lengthAdjust="spacingAndGlyphs" fill="#151515">Ø15</text>
<line x1="814.6" y1="511.5" x2="867.4" y2="511.5" stroke="#2e2e2e" stroke-width="1.0"/>
<path d="M849.50,511.50 L844.50,513.25 L844.50,509.75Z" fill="#1f1f1f"/>
<path d="M854.00,511.50 L859.00,509.75 L859.00,513.25Z" fill="#1f1f1f"/>
<line x1="846.5" y1="521" x2="846.5" y2="566" stroke="#2e2e2e" stroke-width="1.0"/>
<line x1="890.5" y1="521" x2="890.5" y2="566" stroke="#2e2e2e" stroke-width="1.0"/>
<line x1="851.5" y1="500" x2="851.5" y2="545" stroke="#555" stroke-width="1.0"/>
<line x1="885.5" y1="500" x2="885.5" y2="545" stroke="#555" stroke-width="1.0"/>
<line x1="851.2" y1="542.5" x2="885.5" y2="542.5" stroke="#2e2e2e" stroke-width="1.0"/>
<path d="M851.20,542.50 L860.20,540.75 L860.20,544.25Z" fill="#1f1f1f"/>
<path d="M885.50,542.50 L876.50,544.25 L876.50,540.75Z" fill="#1f1f1f"/>
<text x="868.5" y="538.7" font-size="12" text-anchor="middle" fill="#151515">130</text>
<line x1="846.7" y1="563.5" x2="890.6" y2="563.5" stroke="#2e2e2e" stroke-width="1.0"/>
<path d="M846.70,563.80 L855.70,562.05 L855.70,565.55Z" fill="#1f1f1f"/>
<path d="M890.60,563.80 L881.60,565.55 L881.60,562.05Z" fill="#1f1f1f"/>
<text x="868.5" y="562.7" font-size="12" text-anchor="middle" fill="#151515">170</text>
</svg></body></html>
